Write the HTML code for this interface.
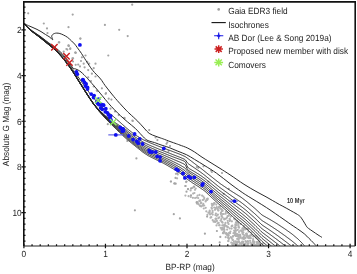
<!DOCTYPE html>
<html><head><meta charset="utf-8"><style>
html,body{margin:0;padding:0;background:#fff;width:357px;height:274px;overflow:hidden}
svg{display:block}
text{font-family:"Liberation Sans",sans-serif;font-size:8.3px;fill:#222;text-rendering:geometricPrecision}
svg{will-change:transform}
</style></head><body>
<svg width="357" height="274" viewBox="0 0 357 274">
<rect width="357" height="274" fill="#fff"/>
<defs><clipPath id="pc"><rect x="24" y="1.9" width="331" height="243.9"/></clipPath></defs>
<g clip-path="url(#pc)">
<g fill="#b2b2b2"><circle cx="175.9" cy="173.8" r="1.1"/><circle cx="177.8" cy="174.5" r="1.1"/><circle cx="177.1" cy="178.3" r="1.1"/><circle cx="170.8" cy="181.5" r="1.1"/><circle cx="174.6" cy="183.4" r="1.1"/><circle cx="186.1" cy="182.1" r="1.1"/><circle cx="185.4" cy="186.0" r="1.1"/><circle cx="188.0" cy="189.2" r="1.1"/><circle cx="190.6" cy="190.4" r="1.1"/><circle cx="192.5" cy="187.9" r="1.1"/><circle cx="193.8" cy="186.6" r="1.1"/><circle cx="195.7" cy="188.5" r="1.1"/><circle cx="195.0" cy="189.8" r="1.1"/><circle cx="194.4" cy="193.0" r="1.1"/><circle cx="193.1" cy="193.6" r="1.1"/><circle cx="185.4" cy="195.6" r="1.1"/><circle cx="188.6" cy="196.2" r="1.1"/><circle cx="197.6" cy="195.6" r="1.1"/><circle cx="199.5" cy="194.9" r="1.1"/><circle cx="202.1" cy="195.6" r="1.1"/><circle cx="198.2" cy="198.1" r="1.1"/><circle cx="200.1" cy="200.7" r="1.1"/><circle cx="202.7" cy="200.0" r="1.1"/><circle cx="197.0" cy="202.0" r="1.1"/><circle cx="200.8" cy="203.2" r="1.1"/><circle cx="203.3" cy="203.9" r="1.1"/><circle cx="212.6" cy="212.5" r="1.1"/><circle cx="217.9" cy="214.7" r="1.1"/><circle cx="203.7" cy="199.6" r="1.1"/><circle cx="250.8" cy="238.2" r="1.1"/><circle cx="216.5" cy="225.4" r="1.1"/><circle cx="222.7" cy="210.8" r="1.1"/><circle cx="231.6" cy="228.6" r="1.1"/><circle cx="207.3" cy="199.2" r="1.1"/><circle cx="240.3" cy="230.7" r="1.1"/><circle cx="235.4" cy="225.9" r="1.1"/><circle cx="248.5" cy="236.5" r="1.1"/><circle cx="219.1" cy="225.3" r="1.1"/><circle cx="222.9" cy="233.2" r="1.1"/><circle cx="239.0" cy="234.6" r="1.1"/><circle cx="227.5" cy="235.0" r="1.1"/><circle cx="231.6" cy="226.3" r="1.1"/><circle cx="245.4" cy="237.9" r="1.1"/><circle cx="235.5" cy="230.1" r="1.1"/><circle cx="216.3" cy="204.6" r="1.1"/><circle cx="247.0" cy="235.2" r="1.1"/><circle cx="248.7" cy="237.8" r="1.1"/><circle cx="211.3" cy="217.2" r="1.1"/><circle cx="259.2" cy="244.8" r="1.1"/><circle cx="211.5" cy="207.8" r="1.1"/><circle cx="243.7" cy="226.0" r="1.1"/><circle cx="219.2" cy="217.4" r="1.1"/><circle cx="247.4" cy="244.6" r="1.1"/><circle cx="243.8" cy="236.7" r="1.1"/><circle cx="207.2" cy="199.2" r="1.1"/><circle cx="207.7" cy="198.7" r="1.1"/><circle cx="238.5" cy="227.3" r="1.1"/><circle cx="250.4" cy="246.6" r="1.1"/><circle cx="206.1" cy="200.4" r="1.1"/><circle cx="198.4" cy="204.2" r="1.1"/><circle cx="225.5" cy="222.9" r="1.1"/><circle cx="242.4" cy="245.9" r="1.1"/><circle cx="209.3" cy="212.8" r="1.1"/><circle cx="238.9" cy="246.2" r="1.1"/><circle cx="250.2" cy="237.7" r="1.1"/><circle cx="238.3" cy="222.4" r="1.1"/><circle cx="233.2" cy="244.8" r="1.1"/><circle cx="254.3" cy="246.4" r="1.1"/><circle cx="216.8" cy="207.2" r="1.1"/><circle cx="246.1" cy="241.9" r="1.1"/><circle cx="237.5" cy="242.4" r="1.1"/><circle cx="216.6" cy="220.4" r="1.1"/><circle cx="252.2" cy="245.6" r="1.1"/><circle cx="258.7" cy="244.3" r="1.1"/><circle cx="197.7" cy="202.5" r="1.1"/><circle cx="230.8" cy="237.1" r="1.1"/><circle cx="254.4" cy="246.0" r="1.1"/><circle cx="240.8" cy="224.0" r="1.1"/><circle cx="247.9" cy="245.5" r="1.1"/><circle cx="234.4" cy="243.6" r="1.1"/><circle cx="249.8" cy="238.1" r="1.1"/><circle cx="212.6" cy="210.9" r="1.1"/><circle cx="227.9" cy="222.7" r="1.1"/><circle cx="202.5" cy="205.3" r="1.1"/><circle cx="242.3" cy="233.0" r="1.1"/><circle cx="238.1" cy="236.0" r="1.1"/><circle cx="237.5" cy="235.4" r="1.1"/><circle cx="234.6" cy="231.3" r="1.1"/><circle cx="245.3" cy="244.1" r="1.1"/><circle cx="259.7" cy="244.1" r="1.1"/><circle cx="223.0" cy="229.7" r="1.1"/><circle cx="233.1" cy="245.3" r="1.1"/><circle cx="261.5" cy="246.5" r="1.1"/><circle cx="220.9" cy="213.3" r="1.1"/><circle cx="235.4" cy="232.8" r="1.1"/><circle cx="226.1" cy="218.5" r="1.1"/><circle cx="244.3" cy="227.8" r="1.1"/><circle cx="233.1" cy="246.2" r="1.1"/><circle cx="215.0" cy="209.8" r="1.1"/><circle cx="253.9" cy="242.5" r="1.1"/><circle cx="200.0" cy="200.6" r="1.1"/><circle cx="210.5" cy="217.7" r="1.1"/><circle cx="221.3" cy="219.1" r="1.1"/><circle cx="259.1" cy="243.3" r="1.1"/><circle cx="236.8" cy="222.9" r="1.1"/><circle cx="213.1" cy="204.2" r="1.1"/><circle cx="209.7" cy="211.9" r="1.1"/><circle cx="228.6" cy="224.1" r="1.1"/><circle cx="236.2" cy="243.7" r="1.1"/><circle cx="242.2" cy="238.6" r="1.1"/><circle cx="239.0" cy="232.0" r="1.1"/><circle cx="225.7" cy="213.7" r="1.1"/><circle cx="221.3" cy="209.0" r="1.1"/><circle cx="237.2" cy="238.9" r="1.1"/><circle cx="218.4" cy="210.4" r="1.1"/><circle cx="224.3" cy="219.4" r="1.1"/><circle cx="257.7" cy="245.6" r="1.1"/><circle cx="253.5" cy="245.2" r="1.1"/><circle cx="204.3" cy="198.1" r="1.1"/><circle cx="250.1" cy="240.8" r="1.1"/><circle cx="241.7" cy="246.2" r="1.1"/><circle cx="223.6" cy="228.8" r="1.1"/><circle cx="237.3" cy="241.5" r="1.1"/><circle cx="240.6" cy="237.4" r="1.1"/><circle cx="238.4" cy="237.0" r="1.1"/><circle cx="238.7" cy="241.5" r="1.1"/><circle cx="218.7" cy="207.7" r="1.1"/><circle cx="210.1" cy="214.4" r="1.1"/><circle cx="216.9" cy="221.0" r="1.1"/><circle cx="237.2" cy="234.2" r="1.1"/><circle cx="227.1" cy="229.6" r="1.1"/><circle cx="217.3" cy="208.9" r="1.1"/><circle cx="230.1" cy="233.2" r="1.1"/><circle cx="253.1" cy="245.8" r="1.1"/><circle cx="234.8" cy="235.1" r="1.1"/><circle cx="207.2" cy="200.0" r="1.1"/><circle cx="236.0" cy="233.9" r="1.1"/><circle cx="203.4" cy="196.6" r="1.1"/><circle cx="234.2" cy="230.5" r="1.1"/><circle cx="248.4" cy="243.7" r="1.1"/><circle cx="229.6" cy="218.9" r="1.1"/><circle cx="244.7" cy="244.2" r="1.1"/><circle cx="237.0" cy="244.6" r="1.1"/><circle cx="224.3" cy="231.9" r="1.1"/><circle cx="237.0" cy="220.8" r="1.1"/><circle cx="229.7" cy="221.1" r="1.1"/><circle cx="228.9" cy="238.8" r="1.1"/><circle cx="232.1" cy="226.0" r="1.1"/><circle cx="222.2" cy="210.0" r="1.1"/><circle cx="228.5" cy="238.6" r="1.1"/><circle cx="211.9" cy="208.7" r="1.1"/><circle cx="237.4" cy="244.8" r="1.1"/><circle cx="239.8" cy="244.0" r="1.1"/><circle cx="246.0" cy="228.9" r="1.1"/><circle cx="247.5" cy="243.3" r="1.1"/><circle cx="211.5" cy="213.5" r="1.1"/><circle cx="243.7" cy="245.8" r="1.1"/><circle cx="227.6" cy="216.1" r="1.1"/><circle cx="214.5" cy="221.4" r="1.1"/><circle cx="262.6" cy="246.8" r="1.1"/><circle cx="212.1" cy="205.8" r="1.1"/><circle cx="247.7" cy="241.2" r="1.1"/><circle cx="228.9" cy="215.2" r="1.1"/><circle cx="258.4" cy="239.3" r="1.1"/><circle cx="242.3" cy="241.7" r="1.1"/><circle cx="234.7" cy="243.3" r="1.1"/><circle cx="262.3" cy="245.6" r="1.1"/><circle cx="229.1" cy="232.8" r="1.1"/><circle cx="243.8" cy="228.9" r="1.1"/><circle cx="248.5" cy="231.6" r="1.1"/><circle cx="216.8" cy="215.8" r="1.1"/><circle cx="230.2" cy="220.2" r="1.1"/><circle cx="254.9" cy="245.0" r="1.1"/><circle cx="241.7" cy="230.4" r="1.1"/><circle cx="214.2" cy="207.6" r="1.1"/><circle cx="246.7" cy="233.7" r="1.1"/><circle cx="237.7" cy="245.5" r="1.1"/><circle cx="205.7" cy="207.8" r="1.1"/><circle cx="231.9" cy="221.3" r="1.1"/><circle cx="251.3" cy="244.4" r="1.1"/><circle cx="214.6" cy="203.2" r="1.1"/><circle cx="228.3" cy="241.1" r="1.1"/><circle cx="257.4" cy="243.5" r="1.1"/><circle cx="262.8" cy="243.7" r="1.1"/><circle cx="237.8" cy="229.9" r="1.1"/><circle cx="227.7" cy="212.9" r="1.1"/><circle cx="232.2" cy="244.7" r="1.1"/><circle cx="243.9" cy="237.9" r="1.1"/><circle cx="248.2" cy="241.7" r="1.1"/><circle cx="255.8" cy="237.4" r="1.1"/><circle cx="192.9" cy="197.8" r="1.1"/><circle cx="252.8" cy="241.8" r="1.1"/><circle cx="256.3" cy="244.8" r="1.1"/><circle cx="243.4" cy="232.5" r="1.1"/><circle cx="231.3" cy="242.7" r="1.1"/><circle cx="256.4" cy="244.6" r="1.1"/><circle cx="236.5" cy="243.3" r="1.1"/><circle cx="244.7" cy="235.4" r="1.1"/><circle cx="249.3" cy="235.9" r="1.1"/><circle cx="251.7" cy="234.4" r="1.1"/><circle cx="221.6" cy="209.5" r="1.1"/><circle cx="224.3" cy="218.8" r="1.1"/><circle cx="224.4" cy="229.9" r="1.1"/><circle cx="203.8" cy="208.5" r="1.1"/><circle cx="232.3" cy="225.5" r="1.1"/><circle cx="259.2" cy="246.6" r="1.1"/><circle cx="225.7" cy="237.2" r="1.1"/><circle cx="228.6" cy="237.8" r="1.1"/><circle cx="234.1" cy="245.6" r="1.1"/><circle cx="215.5" cy="218.9" r="1.1"/><circle cx="244.2" cy="244.2" r="1.1"/><circle cx="235.6" cy="227.6" r="1.1"/><circle cx="247.5" cy="229.2" r="1.1"/><circle cx="238.4" cy="224.0" r="1.1"/><circle cx="242.5" cy="228.6" r="1.1"/><circle cx="242.0" cy="231.5" r="1.1"/><circle cx="212.7" cy="214.6" r="1.1"/><circle cx="201.4" cy="206.4" r="1.1"/><circle cx="235.2" cy="219.5" r="1.1"/><circle cx="241.8" cy="242.4" r="1.1"/><circle cx="200.3" cy="206.1" r="1.1"/><circle cx="264.4" cy="245.8" r="1.1"/><circle cx="233.0" cy="243.2" r="1.1"/><circle cx="253.1" cy="239.2" r="1.1"/><circle cx="235.9" cy="222.4" r="1.1"/><circle cx="243.2" cy="241.8" r="1.1"/><circle cx="228.4" cy="234.6" r="1.1"/><circle cx="225.4" cy="225.7" r="1.1"/><circle cx="234.1" cy="218.8" r="1.1"/><circle cx="239.2" cy="227.6" r="1.1"/><circle cx="240.3" cy="234.9" r="1.1"/><circle cx="205.6" cy="201.5" r="1.1"/><circle cx="222.1" cy="222.0" r="1.1"/><circle cx="253.4" cy="235.7" r="1.1"/><circle cx="213.6" cy="221.7" r="1.1"/><circle cx="239.0" cy="246.8" r="1.1"/><circle cx="236.5" cy="242.7" r="1.1"/><circle cx="251.8" cy="243.5" r="1.1"/><circle cx="226.6" cy="234.6" r="1.1"/><circle cx="254.2" cy="242.9" r="1.1"/><circle cx="237.4" cy="221.8" r="1.1"/><circle cx="199.7" cy="205.3" r="1.1"/><circle cx="222.3" cy="228.5" r="1.1"/><circle cx="228.4" cy="241.0" r="1.1"/><circle cx="224.1" cy="228.1" r="1.1"/><circle cx="222.3" cy="225.4" r="1.1"/><circle cx="216.0" cy="218.6" r="1.1"/><circle cx="243.8" cy="246.2" r="1.1"/><circle cx="225.9" cy="211.9" r="1.1"/><circle cx="254.2" cy="241.7" r="1.1"/><circle cx="247.8" cy="229.3" r="1.1"/><circle cx="220.9" cy="214.1" r="1.1"/><circle cx="226.7" cy="226.0" r="1.1"/><circle cx="212.7" cy="220.2" r="1.1"/><circle cx="220.3" cy="208.4" r="1.1"/><circle cx="247.2" cy="235.9" r="1.1"/><circle cx="224.7" cy="224.7" r="1.1"/><circle cx="225.4" cy="233.4" r="1.1"/><circle cx="230.7" cy="216.7" r="1.1"/><circle cx="238.2" cy="235.7" r="1.1"/><circle cx="257.4" cy="244.0" r="1.1"/><circle cx="227.3" cy="227.0" r="1.1"/><circle cx="247.4" cy="237.5" r="1.1"/><circle cx="206.3" cy="211.3" r="1.1"/><circle cx="255.2" cy="235.9" r="1.1"/><circle cx="243.9" cy="239.1" r="1.1"/><circle cx="246.2" cy="233.8" r="1.1"/><circle cx="227.8" cy="234.2" r="1.1"/><circle cx="234.9" cy="232.3" r="1.1"/><circle cx="222.6" cy="222.7" r="1.1"/><circle cx="235.5" cy="245.2" r="1.1"/><circle cx="253.3" cy="244.2" r="1.1"/><circle cx="253.0" cy="240.9" r="1.1"/><circle cx="239.3" cy="242.3" r="1.1"/><circle cx="236.8" cy="225.1" r="1.1"/><circle cx="220.6" cy="227.8" r="1.1"/><circle cx="213.9" cy="203.4" r="1.1"/><circle cx="258.8" cy="243.4" r="1.1"/><circle cx="196.6" cy="197.5" r="1.1"/><circle cx="235.0" cy="233.6" r="1.1"/><circle cx="259.1" cy="242.6" r="1.1"/><circle cx="219.2" cy="206.5" r="1.1"/><circle cx="238.7" cy="239.2" r="1.1"/><circle cx="248.7" cy="238.1" r="1.1"/><circle cx="199.2" cy="201.1" r="1.1"/><circle cx="227.0" cy="217.6" r="1.1"/><circle cx="207.4" cy="214.8" r="1.1"/><circle cx="234.2" cy="227.5" r="1.1"/><circle cx="217.6" cy="223.4" r="1.1"/><circle cx="213.6" cy="204.7" r="1.1"/><circle cx="209.7" cy="210.5" r="1.1"/><circle cx="221.5" cy="221.4" r="1.1"/><circle cx="235.1" cy="228.0" r="1.1"/><circle cx="215.2" cy="221.6" r="1.1"/><circle cx="243.1" cy="234.4" r="1.1"/><circle cx="208.4" cy="212.7" r="1.1"/><circle cx="251.0" cy="235.4" r="1.1"/><circle cx="215.7" cy="208.1" r="1.1"/><circle cx="211.8" cy="203.9" r="1.1"/><circle cx="223.4" cy="233.2" r="1.1"/><circle cx="241.3" cy="246.2" r="1.1"/><circle cx="218.3" cy="218.2" r="1.1"/><circle cx="221.6" cy="215.8" r="1.1"/><circle cx="240.3" cy="236.3" r="1.1"/><circle cx="242.7" cy="228.3" r="1.1"/><circle cx="224.3" cy="226.8" r="1.1"/><circle cx="243.3" cy="242.3" r="1.1"/><circle cx="246.5" cy="234.2" r="1.1"/><circle cx="228.7" cy="235.5" r="1.1"/><circle cx="236.2" cy="230.7" r="1.1"/><circle cx="235.9" cy="235.9" r="1.1"/><circle cx="241.6" cy="243.4" r="1.1"/><circle cx="240.0" cy="235.7" r="1.1"/><circle cx="247.5" cy="245.7" r="1.1"/><circle cx="260.7" cy="244.0" r="1.1"/><circle cx="223.4" cy="225.3" r="1.1"/><circle cx="245.0" cy="238.3" r="1.1"/><circle cx="241.3" cy="244.3" r="1.1"/><circle cx="222.8" cy="214.1" r="1.1"/><circle cx="221.7" cy="216.4" r="1.1"/><circle cx="223.8" cy="214.0" r="1.1"/><circle cx="218.7" cy="222.9" r="1.1"/><circle cx="228.2" cy="216.0" r="1.1"/><circle cx="235.5" cy="235.6" r="1.1"/><circle cx="242.6" cy="237.8" r="1.1"/><circle cx="204.2" cy="205.5" r="1.1"/><circle cx="218.2" cy="210.3" r="1.1"/><circle cx="220.5" cy="220.5" r="1.1"/><circle cx="221.6" cy="229.6" r="1.1"/><circle cx="232.7" cy="239.6" r="1.1"/><circle cx="257.6" cy="242.2" r="1.1"/><circle cx="257.6" cy="238.4" r="1.1"/><circle cx="245.2" cy="229.5" r="1.1"/><circle cx="250.3" cy="235.6" r="1.1"/><circle cx="256.6" cy="242.1" r="1.1"/><circle cx="235.7" cy="241.4" r="1.1"/><circle cx="235.3" cy="224.3" r="1.1"/><circle cx="232.6" cy="240.0" r="1.1"/><circle cx="243.6" cy="245.0" r="1.1"/><circle cx="229.7" cy="228.4" r="1.1"/><circle cx="215.3" cy="222.0" r="1.1"/><circle cx="222.1" cy="227.9" r="1.1"/><circle cx="231.6" cy="238.2" r="1.1"/><circle cx="238.9" cy="245.7" r="1.1"/><circle cx="220.9" cy="212.9" r="1.1"/><circle cx="233.1" cy="236.0" r="1.1"/><circle cx="259.5" cy="241.2" r="1.1"/><circle cx="221.7" cy="211.3" r="1.1"/><circle cx="241.1" cy="243.0" r="1.1"/><circle cx="227.9" cy="227.2" r="1.1"/><circle cx="230.4" cy="231.5" r="1.1"/><circle cx="250.4" cy="242.6" r="1.1"/><circle cx="239.8" cy="238.0" r="1.1"/><circle cx="222.6" cy="217.5" r="1.1"/><circle cx="195.1" cy="198.0" r="1.1"/><circle cx="225.0" cy="218.8" r="1.1"/><circle cx="252.3" cy="246.0" r="1.1"/><circle cx="220.0" cy="206.8" r="1.1"/><circle cx="201.3" cy="202.6" r="1.1"/><circle cx="203.2" cy="205.6" r="1.1"/><circle cx="233.5" cy="233.2" r="1.1"/><circle cx="223.6" cy="232.2" r="1.1"/><circle cx="251.2" cy="232.6" r="1.1"/><circle cx="226.5" cy="233.2" r="1.1"/><circle cx="227.7" cy="220.8" r="1.1"/><circle cx="224.5" cy="225.3" r="1.1"/><circle cx="235.7" cy="228.1" r="1.1"/><circle cx="246.4" cy="236.0" r="1.1"/><circle cx="245.6" cy="245.8" r="1.1"/><circle cx="238.8" cy="241.3" r="1.1"/><circle cx="256.8" cy="237.2" r="1.1"/><circle cx="233.9" cy="241.3" r="1.1"/><circle cx="219.6" cy="225.2" r="1.1"/><circle cx="228.1" cy="237.2" r="1.1"/><circle cx="215.9" cy="213.7" r="1.1"/><circle cx="232.8" cy="236.7" r="1.1"/><circle cx="243.2" cy="243.5" r="1.1"/><circle cx="243.3" cy="230.6" r="1.1"/><circle cx="253.2" cy="236.4" r="1.1"/><circle cx="249.5" cy="237.1" r="1.1"/><circle cx="245.5" cy="241.1" r="1.1"/><circle cx="238.6" cy="226.1" r="1.1"/><circle cx="197.0" cy="203.6" r="1.1"/><circle cx="215.4" cy="215.1" r="1.1"/><circle cx="237.1" cy="236.2" r="1.1"/><circle cx="190.8" cy="197.0" r="1.1"/></g>
<g fill="#a4a4a4"><circle cx="28.2" cy="13.3" r="1.1"/><circle cx="72.7" cy="14.6" r="1.1"/><circle cx="43.8" cy="23.5" r="1.1"/><circle cx="47.0" cy="28.4" r="1.1"/><circle cx="68.5" cy="27.2" r="1.1"/><circle cx="47.5" cy="33.1" r="1.1"/><circle cx="59.3" cy="42.3" r="1.1"/><circle cx="80.3" cy="38.6" r="1.1"/><circle cx="68.5" cy="45.4" r="1.1"/><circle cx="132.2" cy="4.7" r="1.1"/><circle cx="104.9" cy="24.9" r="1.1"/><circle cx="119.2" cy="29.8" r="1.1"/><circle cx="127.7" cy="36.1" r="1.1"/><circle cx="80.4" cy="38.6" r="1.1"/><circle cx="68.8" cy="46.0" r="1.1"/><circle cx="67.3" cy="49.6" r="1.1"/><circle cx="70.2" cy="48.9" r="1.1"/><circle cx="75.3" cy="52.5" r="1.1"/><circle cx="73.1" cy="58.4" r="1.1"/><circle cx="58.8" cy="42.4" r="1.1"/><circle cx="68.6" cy="45.7" r="1.1"/><circle cx="66.4" cy="49.0" r="1.1"/><circle cx="70.3" cy="48.4" r="1.1"/><circle cx="63.7" cy="51.7" r="1.1"/><circle cx="75.7" cy="52.8" r="1.1"/><circle cx="72.4" cy="58.3" r="1.1"/><circle cx="73.0" cy="61.5" r="1.1"/><circle cx="75.7" cy="64.8" r="1.1"/><circle cx="134.9" cy="210.3" r="1.1"/><circle cx="173.8" cy="214.2" r="1.1"/><circle cx="179.9" cy="218.4" r="1.1"/><circle cx="196.6" cy="202.4" r="1.1"/><circle cx="222.0" cy="173.0" r="1.1"/><circle cx="211.9" cy="172.0" r="1.1"/><circle cx="203.5" cy="166.3" r="1.1"/><circle cx="196.8" cy="167.0" r="1.1"/><circle cx="228.7" cy="188.8" r="1.1"/><circle cx="223.7" cy="193.9" r="1.1"/><circle cx="174.3" cy="183.5" r="1.1"/><circle cx="185.5" cy="186.0" r="1.1"/><circle cx="188.0" cy="189.0" r="1.1"/><circle cx="191.1" cy="188.4" r="1.1"/><circle cx="194.2" cy="186.8" r="1.1"/><circle cx="75.5" cy="52.7" r="1.1"/><circle cx="81.9" cy="57.3" r="1.1"/><circle cx="85.5" cy="55.5" r="1.1"/><circle cx="83.7" cy="63.7" r="1.1"/><circle cx="87.3" cy="61.9" r="1.1"/><circle cx="89.2" cy="63.7" r="1.1"/><circle cx="84.6" cy="67.3" r="1.1"/><circle cx="88.2" cy="70.1" r="1.1"/><circle cx="93.7" cy="68.2" r="1.1"/><circle cx="95.5" cy="63.7" r="1.1"/><circle cx="91.9" cy="73.7" r="1.1"/><circle cx="88.2" cy="77.4" r="1.1"/><circle cx="91.0" cy="81.0" r="1.1"/><circle cx="95.5" cy="76.5" r="1.1"/><circle cx="93.7" cy="86.5" r="1.1"/><circle cx="97.4" cy="91.1" r="1.1"/><circle cx="101.9" cy="88.3" r="1.1"/><circle cx="105.6" cy="93.8" r="1.1"/><circle cx="108.3" cy="55.5" r="1.1"/><circle cx="80.0" cy="66.4" r="1.1"/><circle cx="81.0" cy="61.0" r="1.1"/><circle cx="78.2" cy="64.6" r="1.1"/><circle cx="96.8" cy="90.5" r="1.1"/><circle cx="106.0" cy="93.2" r="1.1"/><circle cx="108.7" cy="98.7" r="1.1"/><circle cx="111.4" cy="99.6" r="1.1"/><circle cx="118.7" cy="115.1" r="1.1"/><circle cx="124.2" cy="117.8" r="1.1"/><circle cx="132.4" cy="120.6" r="1.1"/><circle cx="110.5" cy="108.7" r="1.1"/><circle cx="115.0" cy="111.5" r="1.1"/><circle cx="107.8" cy="124.2" r="1.1"/><circle cx="97.7" cy="105.1" r="1.1"/><circle cx="118.7" cy="130.6" r="1.1"/><circle cx="124.6" cy="118.2" r="1.1"/><circle cx="132.8" cy="121.0" r="1.1"/><circle cx="149.2" cy="130.1" r="1.1"/><circle cx="155.6" cy="137.4" r="1.1"/><circle cx="157.4" cy="140.1" r="1.1"/><circle cx="166.5" cy="143.8" r="1.1"/><circle cx="168.4" cy="151.1" r="1.1"/><circle cx="127.3" cy="141.0" r="1.1"/><circle cx="136.4" cy="158.4" r="1.1"/><circle cx="167.3" cy="142.3" r="1.1"/><circle cx="170.0" cy="146.0" r="1.1"/><circle cx="198.3" cy="167.8" r="1.1"/><circle cx="211.1" cy="170.6" r="1.1"/><circle cx="208.4" cy="181.5" r="1.1"/><circle cx="177.3" cy="173.3" r="1.1"/><circle cx="175.5" cy="177.9" r="1.1"/><circle cx="171.0" cy="181.5" r="1.1"/><circle cx="186.5" cy="181.5" r="1.1"/><circle cx="220.3" cy="236.9" r="1.1"/><circle cx="207.1" cy="216.6" r="1.1"/><circle cx="216.9" cy="231.0" r="1.1"/><circle cx="219.7" cy="242.4" r="1.1"/><circle cx="204.9" cy="233.7" r="1.1"/><circle cx="191.0" cy="195.3" r="1.1"/><circle cx="186.5" cy="191.7" r="1.1"/><circle cx="175.7" cy="183.7" r="1.1"/></g>
<path d="M24.20,23.80L24.95,24.59L25.70,25.38L26.45,26.17L27.20,26.96L27.95,27.75L28.70,28.36L29.45,28.96L30.20,29.56L30.95,30.16L31.70,30.76L32.45,31.36L33.20,31.94L33.95,32.45L34.70,32.97L35.45,33.48L36.20,33.99L36.95,34.51L37.70,35.02L38.45,35.54L39.20,36.05L39.95,36.57L40.70,37.12L41.45,37.68L42.20,38.24L42.95,38.80L43.70,39.36L44.45,39.92L45.20,40.48L45.95,41.07L46.70,41.68L47.45,42.29L48.20,42.90L48.95,43.51L49.70,44.12L50.45,44.74L51.20,45.35L51.95,45.96L52.70,46.54L53.45,47.12L54.20,47.70L54.95,48.33L55.70,48.96L56.45,49.59L57.20,50.22L57.95,50.85L58.70,51.50L59.45,52.23L60.20,52.95L60.95,53.68L61.70,54.41L62.45,55.24L63.20,56.14L63.95,57.04L64.70,57.94L65.45,58.84L66.20,59.88L66.95,60.93L67.70,61.98L68.45,63.03L69.20,64.08L69.95,65.13L70.70,66.22L71.45,67.32L72.20,68.41L72.95,69.51L73.70,70.60L74.45,71.70L75.20,72.78L75.95,73.83L76.70,74.88L77.45,75.93L78.20,76.98L78.95,78.03L79.70,79.08L80.45,80.16L81.20,81.25L81.95,82.35L82.70,83.44L83.45,84.54L84.20,85.63L84.95,86.73L85.70,87.75L86.45,88.77L87.20,89.79L87.95,90.81L88.70,91.83L89.45,92.85L90.20,93.84L90.95,94.74L91.70,95.64L92.45,96.54L93.20,97.44L93.95,98.34L94.70,99.24L95.45,100.10L96.20,100.94L96.95,101.78L97.70,102.62L98.45,103.46L99.20,104.30L99.95,105.14L100.70,105.83L101.45,106.51L102.20,107.18L102.95,107.86L103.70,108.53L104.45,109.20L105.20,109.88L105.95,110.55L106.70,111.15L107.45,111.74L108.20,112.33L108.95,112.92L109.70,113.51L110.45,114.10L111.20,114.69L111.95,115.30L112.70,115.94L113.45,116.58L114.20,117.22L114.95,117.87L115.70,118.51L116.45,119.15L117.20,119.79L117.95,120.43L118.70,121.07L119.45,121.72L120.20,122.40L120.95,123.07L121.70,123.74L122.45,124.41L123.20,125.08L123.95,125.76L124.70,126.43L125.45,127.10L126.20,127.77L126.95,128.44L127.70,129.03L128.45,129.62L129.20,130.22L129.95,130.81L130.70,131.40L131.45,132.00L132.20,132.59L132.95,133.18L133.70,133.77L134.45,134.37L135.20,134.92L135.95,135.37L136.70,135.81L137.45,136.26L138.20,136.70L138.95,137.15L139.70,137.60L140.45,138.04L141.20,138.49L141.95,138.94L142.70,139.38L143.45,139.82L144.20,140.16L144.95,140.50L145.70,140.85L146.45,141.19L147.20,141.53L147.95,141.87L148.70,142.21L149.45,142.55L150.20,142.88L150.95,143.18L151.70,143.48L152.45,143.78L153.20,144.08L153.95,144.38L154.70,144.68L155.45,144.98L156.20,145.28L156.95,145.58L157.70,145.88L158.45,146.18L159.20,146.48L159.95,146.78L160.70,147.06L161.45,147.34L162.20,147.61L162.95,147.89L163.70,148.17L164.45,148.45L165.20,148.72L165.95,149.00L166.70,149.28L167.45,149.56L168.20,149.83L168.95,150.11L169.70,150.39L170.45,150.67L171.20,150.96L171.95,151.24L172.70,151.53L173.45,151.81L174.20,152.10L174.95,152.38L175.70,152.67L176.45,152.95L177.20,153.24L177.95,153.52L178.70,153.81L179.45,154.09L180.20,154.39L180.95,154.72L181.70,155.05L182.45,155.38L183.20,155.72L183.95,156.05L184.70,156.38L185.45,156.78L186.20,157.32L186.95,157.86L187.70,158.40L188.45,158.94L189.20,159.50L189.95,160.07L190.70,160.64L191.45,161.21L192.20,161.77L192.95,162.35L193.70,162.93L194.45,163.50L195.20,164.08L195.95,164.66L196.70,165.22L197.45,165.77L198.20,166.33L198.95,166.88L199.70,167.44L200.45,167.99L201.20,168.56L201.95,169.16L202.70,169.76L203.45,170.36L204.20,170.96L204.95,171.56L205.70,172.16L206.45,172.76L207.20,173.36L207.95,173.96L208.70,174.56L209.45,175.16L210.20,175.76L210.95,176.35L211.70,176.94L212.45,177.54L213.20,178.13L213.95,178.72L214.70,179.31L215.45,179.91L216.20,180.50L216.95,181.09L217.70,181.68L218.45,182.28L219.20,182.87L219.95,183.46L220.70,183.98L221.45,184.49L222.20,185.00L222.95,185.51L223.70,186.02L224.45,186.53L225.20,187.04L225.95,187.55L226.70,188.06L227.45,188.57L228.20,189.08L228.95,189.59L229.70,190.10L230.45,190.58L231.20,191.05L231.95,191.52L232.70,191.99L233.45,192.46L234.20,192.93L234.95,193.41L235.70,193.88L236.45,194.35L237.20,194.82L237.95,195.29L238.70,195.76L239.45,196.23L240.20,196.70L240.95,197.17L241.70,197.73L242.45,198.30L243.20,198.87L243.95,199.44L244.70,200.01L245.45,200.58L246.20,201.17L246.95,201.79L247.70,202.42L248.45,203.04L249.20,203.67L249.95,204.29L250.70,204.92L251.45,205.54L252.20,206.17L252.95,206.79L253.70,207.42L254.45,208.04L255.20,208.69L255.95,209.38L256.70,210.08L257.45,210.77L258.20,211.47L258.95,212.17L259.70,212.86L260.45,213.56L261.20,214.26L261.95,214.95L262.70,215.39L263.45,215.82L264.20,216.24L264.95,216.66L265.70,217.08L266.45,217.50L267.20,217.92L267.95,218.35L268.70,218.77L269.45,219.19L270.20,219.62L270.95,220.07L271.70,220.52L272.45,220.97L273.20,221.42L273.95,221.87L274.70,222.32L275.45,222.77L276.20,223.22L276.95,223.67L277.70,224.16L278.45,224.66L279.20,225.16L279.95,225.65L280.70,226.15L281.45,226.65L282.20,227.14L282.95,227.64L283.70,228.14L284.45,228.64L285.20,229.14L285.95,229.68L286.70,230.21L287.45,230.75L288.20,231.29L288.95,231.82L289.70,232.36L290.45,232.89L291.20,233.43L291.95,233.96L292.70,234.58L293.45,235.21L294.20,235.83L294.95,236.46L295.70,237.08L296.45,237.71L297.20,238.33L297.95,238.96L298.70,239.70L299.45,240.45L300.20,241.20L300.95,241.95L301.70,242.70L302.45,243.51L303.20,244.37L303.95,245.23L304.70,246.09L305.45,246.94L306.20,247.80L306.95,248.66L307.70,249.51L308.45,250.37M24.20,23.80L24.95,24.60L25.70,25.40L26.45,26.20L27.20,27.00L27.95,27.80L28.70,28.42L29.45,29.03L30.20,29.63L30.95,30.24L31.70,30.85L32.45,31.45L33.20,32.03L33.95,32.56L34.70,33.08L35.45,33.61L36.20,34.13L36.95,34.66L37.70,35.18L38.45,35.71L39.20,36.27L39.95,36.83L40.70,37.44L41.45,38.06L42.20,38.67L42.95,39.28L43.70,39.90L44.45,40.51L45.20,41.13L45.95,41.74L46.70,42.35L47.45,42.96L48.20,43.57L48.95,44.18L49.70,44.80L50.45,45.41L51.20,46.02L51.95,46.63L52.70,47.24L53.45,47.86L54.20,48.47L54.95,49.22L55.70,49.97L56.45,50.72L57.20,51.47L57.95,52.22L58.70,52.98L59.45,53.80L60.20,54.61L60.95,55.43L61.70,56.24L62.45,57.13L63.20,58.05L63.95,58.98L64.70,59.90L65.45,60.86L66.20,61.85L66.95,62.84L67.70,63.83L68.45,64.82L69.20,65.81L69.95,66.80L70.70,67.93L71.45,69.07L72.20,70.20L72.95,71.34L73.70,72.47L74.45,73.68L75.20,74.89L75.95,76.09L76.70,77.30L77.45,78.51L78.20,79.71L78.95,80.91L79.70,82.10L80.45,83.30L81.20,84.49L81.95,85.69L82.70,86.88L83.45,88.07L84.20,89.25L84.95,90.44L85.70,91.63L86.45,92.82L87.20,94.00L87.95,95.19L88.70,96.31L89.45,97.43L90.20,98.55L90.95,99.67L91.70,100.78L92.45,101.90L93.20,103.00L93.95,103.96L94.70,104.92L95.45,105.88L96.20,106.80L96.95,107.64L97.70,108.48L98.45,109.31L99.20,110.14L99.95,110.86L100.70,111.56L101.45,112.25L102.20,112.94L102.95,113.62L103.70,114.29L104.45,114.96L105.20,115.62L105.95,116.22L106.70,116.78L107.45,117.33L108.20,117.88L108.95,118.42L109.70,118.96L110.45,119.48L111.20,119.99L111.95,120.49L112.70,121.01L113.45,121.52L114.20,122.03L114.95,122.53L115.70,123.03L116.45,123.53L117.20,124.02L117.95,124.50L118.70,124.99L119.45,125.48L120.20,125.97L120.95,126.47L121.70,126.95L122.45,127.42L123.20,127.90L123.95,128.37L124.70,128.84L125.45,129.31L126.20,129.84L126.95,130.51L127.70,131.11L128.45,131.70L129.20,132.30L129.95,132.89L130.70,133.49L131.45,134.09L132.20,134.68L132.95,135.28L133.70,135.87L134.45,136.47L135.20,137.03L135.95,137.51L136.70,137.98L137.45,138.46L138.20,138.93L138.95,139.41L139.70,139.88L140.45,140.36L141.20,140.83L141.95,141.31L142.70,141.78L143.45,142.24L144.20,142.61L144.95,142.98L145.70,143.35L146.45,143.72L147.20,144.08L147.95,144.45L148.70,144.80L149.45,145.15L150.20,145.48L150.95,145.80L151.70,146.11L152.45,146.42L153.20,146.73L153.95,147.04L154.70,147.35L155.45,147.67L156.20,147.98L156.95,148.29L157.70,148.60L158.45,148.91L159.20,149.21L159.95,149.52L160.70,149.81L161.45,150.10L162.20,150.38L162.95,150.67L163.70,150.96L164.45,151.25L165.20,151.55L165.95,151.85L166.70,152.15L167.45,152.44L168.20,152.73L168.95,153.03L169.70,153.32L170.45,153.61L171.20,153.91L171.95,154.21L172.70,154.50L173.45,154.80L174.20,155.09L174.95,155.38L175.70,155.66L176.45,155.95L177.20,156.24L177.95,156.53L178.70,156.82L179.45,157.10L180.20,157.39L180.95,157.72L181.70,158.05L182.45,158.37L183.20,158.69L183.95,159.03L184.70,159.43L185.45,160.04L186.20,161.04L186.95,162.21L187.70,163.14L188.45,163.80L189.20,164.36L189.95,164.88L190.70,165.38L191.45,165.88L192.20,166.38L192.95,166.89L193.70,167.40L194.45,167.91L195.20,168.43L195.95,168.95L196.70,169.46L197.45,169.97L198.20,170.48L198.95,171.00L199.70,171.53L200.45,172.06L201.20,172.59L201.95,173.16L202.70,173.73L203.45,174.30L204.20,174.87L204.95,175.45L205.70,176.05L206.45,176.66L207.20,177.28L207.95,177.89L208.70,178.50L209.45,179.12L210.20,179.73L210.95,180.33L211.70,180.94L212.45,181.54L213.20,182.15L213.95,182.75L214.70,183.36L215.45,183.97L216.20,184.57L216.95,185.18L217.70,185.79L218.45,186.39L219.20,186.99L219.95,187.59L220.70,188.12L221.45,188.66L222.20,189.19L222.95,189.73L223.70,190.26L224.45,190.80L225.20,191.33L225.95,191.87L226.70,192.41L227.45,192.96L228.20,193.51L228.95,194.06L229.70,194.61L230.45,195.14L231.20,195.65L231.95,196.17L232.70,196.68L233.45,197.19L234.20,197.70L234.95,198.21L235.70,198.72L236.45,199.23L237.20,199.74L237.95,200.25L238.70,200.76L239.45,201.26L240.20,201.76L240.95,202.26L241.70,202.84L242.45,203.42L243.20,204.00L243.95,204.58L244.70,205.16L245.45,205.74L246.20,206.34L246.95,206.99L247.70,207.63L248.45,208.28L249.20,208.92L249.95,209.57L250.70,210.21L251.45,210.86L252.20,211.51L252.95,212.15L253.70,212.80L254.45,213.44L255.20,214.11L255.95,214.82L256.70,215.53L257.45,216.24L258.20,216.95L258.95,217.66L259.70,218.37L260.45,219.08L261.20,219.79L261.95,220.50L262.70,220.98L263.45,221.45L264.20,221.92L264.95,222.39L265.70,222.85L266.45,223.32L267.20,223.79L267.95,224.26L268.70,224.73L269.45,225.19L270.20,225.67L270.95,226.16L271.70,226.65L272.45,227.14L273.20,227.63L273.95,228.12L274.70,228.61L275.45,229.10L276.20,229.59L276.95,230.08L277.70,230.61L278.45,231.13L279.20,231.66L279.95,232.19L280.70,232.72L281.45,233.25L282.20,233.78L282.95,234.30L283.70,234.83L284.45,235.36L285.20,235.90L285.95,236.46L286.70,237.02L287.45,237.58L288.20,238.14L288.95,238.70L289.70,239.26L290.45,239.82L291.20,240.38L291.95,240.94L292.70,241.56L293.45,242.20L294.20,242.83L294.95,243.46L295.70,244.09L296.45,244.72L297.20,245.36L297.95,245.99L298.70,246.71L299.45,247.45L300.20,248.18L300.95,248.91L301.70,249.65L302.45,250.43M24.20,23.80L24.95,24.61L25.70,25.42L26.45,26.23L27.20,27.04L27.95,27.85L28.70,28.47L29.45,29.08L30.20,29.69L30.95,30.30L31.70,30.91L32.45,31.52L33.20,32.11L33.95,32.64L34.70,33.18L35.45,33.71L36.20,34.24L36.95,34.77L37.70,35.31L38.45,35.84L39.20,36.40L39.95,36.97L40.70,37.58L41.45,38.19L42.20,38.81L42.95,39.42L43.70,40.03L44.45,40.65L45.20,41.26L45.95,41.87L46.70,42.48L47.45,43.10L48.20,43.71L48.95,44.32L49.70,44.93L50.45,45.54L51.20,46.15L51.95,46.77L52.70,47.38L53.45,47.99L54.20,48.61L54.95,49.36L55.70,50.11L56.45,50.86L57.20,51.61L57.95,52.36L58.70,53.11L59.45,53.93L60.20,54.75L60.95,55.56L61.70,56.38L62.45,57.26L63.20,58.19L63.95,59.11L64.70,60.04L65.45,61.00L66.20,61.99L66.95,62.98L67.70,63.97L68.45,64.96L69.20,65.95L69.95,66.94L70.70,68.07L71.45,69.20L72.20,70.34L72.95,71.47L73.70,72.61L74.45,73.81L75.20,75.02L75.95,76.23L76.70,77.44L77.45,78.64L78.20,79.84L78.95,81.04L79.70,82.24L80.45,83.43L81.20,84.63L81.95,85.83L82.70,87.01L83.45,88.20L84.20,89.39L84.95,90.58L85.70,91.76L86.45,92.95L87.20,94.14L87.95,95.33L88.70,96.45L89.45,97.57L90.20,98.68L90.95,99.80L91.70,100.92L92.45,102.04L93.20,103.13L93.95,104.09L94.70,105.05L95.45,106.01L96.20,106.94L96.95,107.81L97.70,108.66L98.45,109.52L99.20,110.37L99.95,111.12L100.70,111.84L101.45,112.57L102.20,113.28L102.95,113.99L103.70,114.70L104.45,115.40L105.20,116.09L105.95,116.72L106.70,117.33L107.45,117.92L108.20,118.51L108.95,119.09L109.70,119.67L110.45,120.24L111.20,120.78L111.95,121.33L112.70,121.89L113.45,122.44L114.20,122.99L114.95,123.54L115.70,124.08L116.45,124.62L117.20,125.16L117.95,125.69L118.70,126.22L119.45,126.75L120.20,127.30L120.95,127.83L121.70,128.36L122.45,128.87L123.20,129.38L123.95,129.90L124.70,130.41L125.45,130.92L126.20,131.47L126.95,132.14L127.70,132.74L128.45,133.34L129.20,133.94L129.95,134.54L130.70,135.14L131.45,135.74L132.20,136.34L132.95,136.93L133.70,137.53L134.45,138.12L135.20,138.69L135.95,139.19L136.70,139.69L137.45,140.19L138.20,140.69L138.95,141.19L139.70,141.68L140.45,142.18L141.20,142.68L141.95,143.18L142.70,143.67L143.45,144.14L144.20,144.53L144.95,144.93L145.70,145.32L146.45,145.71L147.20,146.10L147.95,146.49L148.70,146.84L149.45,147.19L150.20,147.53L150.95,147.85L151.70,148.17L152.45,148.49L153.20,148.81L153.95,149.13L154.70,149.45L155.45,149.77L156.20,150.09L156.95,150.41L157.70,150.72L158.45,151.03L159.20,151.35L159.95,151.65L160.70,151.95L161.45,152.24L162.20,152.53L162.95,152.82L163.70,153.11L164.45,153.43L165.20,153.74L165.95,154.04L166.70,154.35L167.45,154.65L168.20,154.96L168.95,155.26L169.70,155.55L170.45,155.85L171.20,156.15L171.95,156.45L172.70,156.74L173.45,157.03L174.20,157.32L174.95,157.60L175.70,157.87L176.45,158.15L177.20,158.44L177.95,158.71L178.70,158.98L179.45,159.24L180.20,159.51L180.95,159.81L181.70,160.11L182.45,160.40L183.20,160.70L183.95,161.03L184.70,161.48L185.45,162.33L186.20,163.88L186.95,165.79L187.70,167.19L188.45,168.01L189.20,168.56L189.95,169.01L190.70,169.44L191.45,169.86L192.20,170.29L192.95,170.72L193.70,171.16L194.45,171.61L195.20,172.06L195.95,172.52L196.70,172.98L197.45,173.44L198.20,173.90L198.95,174.38L199.70,174.88L200.45,175.37L201.20,175.88L201.95,176.41L202.70,176.95L203.45,177.49L204.20,178.03L204.95,178.58L205.70,179.19L206.45,179.80L207.20,180.42L207.95,181.04L208.70,181.66L209.45,182.28L210.20,182.90L210.95,183.51L211.70,184.12L212.45,184.73L213.20,185.35L213.95,185.96L214.70,186.58L215.45,187.19L216.20,187.81L216.95,188.43L217.70,189.04L218.45,189.65L219.20,190.25L219.95,190.86L220.70,191.41L221.45,191.96L222.20,192.52L222.95,193.07L223.70,193.62L224.45,194.17L225.20,194.73L225.95,195.28L226.70,195.85L227.45,196.43L228.20,197.01L228.95,197.59L229.70,198.17L230.45,198.74L231.20,199.29L231.95,199.85L232.70,200.39L233.45,200.93L234.20,201.47L234.95,202.01L235.70,202.55L236.45,203.09L237.20,203.64L237.95,204.18L238.70,204.72L239.45,205.24L240.20,205.76L240.95,206.29L241.70,206.87L242.45,207.46L243.20,208.05L243.95,208.64L244.70,209.23L245.45,209.82L246.20,210.43L246.95,211.09L247.70,211.75L248.45,212.41L249.20,213.07L249.95,213.74L250.70,214.40L251.45,215.06L252.20,215.72L252.95,216.38L253.70,217.04L254.45,217.71L255.20,218.38L255.95,219.11L256.70,219.83L257.45,220.55L258.20,221.27L258.95,221.99L259.70,222.71L260.45,223.44L261.20,224.16L261.95,224.88L262.70,225.40L263.45,225.90L264.20,226.41L264.95,226.91L265.70,227.41L266.45,227.92L267.20,228.42L267.95,228.92L268.70,229.43L269.45,229.93L270.20,230.44L270.95,230.96L271.70,231.48L272.45,232.01L273.20,232.53L273.95,233.05L274.70,233.57L275.45,234.10L276.20,234.62L276.95,235.14L277.70,235.69L278.45,236.24L279.20,236.80L279.95,237.35L280.70,237.90L281.45,238.46L282.20,239.01L282.95,239.56L283.70,240.12L284.45,240.67L285.20,241.23L285.95,241.81L286.70,242.39L287.45,242.97L288.20,243.55L288.95,244.12L289.70,244.70L290.45,245.28L291.20,245.86L291.95,246.44L292.70,247.07L293.45,247.71L294.20,248.35L294.95,248.99L295.70,249.62L296.45,250.26M24.20,23.80L24.95,24.62L25.70,25.43L26.45,26.25L27.20,27.07L27.95,27.89L28.70,28.51L29.45,29.13L30.20,29.74L30.95,30.36L31.70,30.97L32.45,31.58L33.20,32.18L33.95,32.72L34.70,33.26L35.45,33.80L36.20,34.34L36.95,34.88L37.70,35.42L38.45,35.96L39.20,36.52L39.95,37.09L40.70,37.70L41.45,38.31L42.20,38.92L42.95,39.54L43.70,40.15L44.45,40.76L45.20,41.38L45.95,41.99L46.70,42.60L47.45,43.21L48.20,43.82L48.95,44.44L49.70,45.05L50.45,45.66L51.20,46.27L51.95,46.88L52.70,47.50L53.45,48.11L54.20,48.72L54.95,49.47L55.70,50.22L56.45,50.97L57.20,51.72L57.95,52.47L58.70,53.23L59.45,54.05L60.20,54.86L60.95,55.68L61.70,56.50L62.45,57.38L63.20,58.30L63.95,59.23L64.70,60.15L65.45,61.12L66.20,62.11L66.95,63.10L67.70,64.09L68.45,65.08L69.20,66.07L69.95,67.06L70.70,68.18L71.45,69.32L72.20,70.45L72.95,71.59L73.70,72.72L74.45,73.93L75.20,75.14L75.95,76.34L76.70,77.55L77.45,78.76L78.20,79.96L78.95,81.16L79.70,82.35L80.45,83.55L81.20,84.75L81.95,85.94L82.70,87.13L83.45,88.32L84.20,89.51L84.95,90.69L85.70,91.88L86.45,93.07L87.20,94.26L87.95,95.44L88.70,96.57L89.45,97.68L90.20,98.80L90.95,99.92L91.70,101.04L92.45,102.15L93.20,103.25L93.95,104.21L94.70,105.17L95.45,106.13L96.20,107.07L96.95,107.95L97.70,108.83L98.45,109.70L99.20,110.57L99.95,111.34L100.70,112.09L101.45,112.84L102.20,113.58L102.95,114.32L103.70,115.05L104.45,115.78L105.20,116.51L105.95,117.17L106.70,117.80L107.45,118.43L108.20,119.05L108.95,119.67L109.70,120.28L110.45,120.89L111.20,121.47L111.95,122.06L112.70,122.65L113.45,123.24L114.20,123.83L114.95,124.41L115.70,124.99L116.45,125.57L117.20,126.15L117.95,126.72L118.70,127.29L119.45,127.86L120.20,128.44L120.95,129.02L121.70,129.58L122.45,130.13L123.20,130.68L123.95,131.22L124.70,131.76L125.45,132.31L126.20,132.89L126.95,133.56L127.70,134.16L128.45,134.76L129.20,135.37L129.95,135.97L130.70,136.57L131.45,137.17L132.20,137.78L132.95,138.37L133.70,138.97L134.45,139.57L135.20,140.14L135.95,140.66L136.70,141.18L137.45,141.70L138.20,142.22L138.95,142.74L139.70,143.25L140.45,143.77L141.20,144.29L141.95,144.81L142.70,145.32L143.45,145.81L144.20,146.22L144.95,146.63L145.70,147.04L146.45,147.45L147.20,147.86L147.95,148.28L148.70,148.63L149.45,148.99L150.20,149.34L150.95,149.67L151.70,150.00L152.45,150.33L153.20,150.66L153.95,150.99L154.70,151.32L155.45,151.65L156.20,151.98L156.95,152.31L157.70,152.64L158.45,152.96L159.20,153.28L159.95,153.60L160.70,153.91L161.45,154.21L162.20,154.52L162.95,154.82L163.70,155.13L164.45,155.46L165.20,155.80L165.95,156.13L166.70,156.46L167.45,156.79L168.20,157.12L168.95,157.44L169.70,157.77L170.45,158.09L171.20,158.42L171.95,158.75L172.70,159.07L173.45,159.39L174.20,159.71L174.95,160.02L175.70,160.33L176.45,160.65L177.20,160.98L177.95,161.30L178.70,161.61L179.45,161.92L180.20,162.24L180.95,162.60L181.70,162.95L182.45,163.30L183.20,163.66L183.95,164.04L184.70,164.53L185.45,165.33L186.20,166.71L186.95,168.37L187.70,169.61L188.45,170.38L189.20,170.92L189.95,171.39L190.70,171.83L191.45,172.27L192.20,172.72L192.95,173.16L193.70,173.61L194.45,174.06L195.20,174.52L195.95,174.99L196.70,175.45L197.45,175.91L198.20,176.38L198.95,176.86L199.70,177.36L200.45,177.86L201.20,178.38L201.95,178.91L202.70,179.44L203.45,179.98L204.20,180.52L204.95,181.06L205.70,181.69L206.45,182.33L207.20,182.96L207.95,183.60L208.70,184.24L209.45,184.88L210.20,185.52L210.95,186.15L211.70,186.77L212.45,187.40L213.20,188.03L213.95,188.66L214.70,189.29L215.45,189.92L216.20,190.55L216.95,191.18L217.70,191.81L218.45,192.42L219.20,193.03L219.95,193.65L220.70,194.22L221.45,194.79L222.20,195.36L222.95,195.93L223.70,196.50L224.45,197.08L225.20,197.65L225.95,198.22L226.70,198.81L227.45,199.42L228.20,200.03L228.95,200.64L229.70,201.25L230.45,201.84L231.20,202.43L231.95,203.02L232.70,203.59L233.45,204.16L234.20,204.73L234.95,205.30L235.70,205.86L236.45,206.43L237.20,207.00L237.95,207.57L238.70,208.14L239.45,208.68L240.20,209.23L240.95,209.77L241.70,210.36L242.45,210.96L243.20,211.56L243.95,212.15L244.70,212.75L245.45,213.35L246.20,213.97L246.95,214.64L247.70,215.32L248.45,215.99L249.20,216.67L249.95,217.35L250.70,218.02L251.45,218.70L252.20,219.37L252.95,220.05L253.70,220.72L254.45,221.40L255.20,222.09L255.95,222.82L256.70,223.55L257.45,224.29L258.20,225.02L258.95,225.75L259.70,226.48L260.45,227.21L261.20,227.94L261.95,228.68L262.70,229.22L263.45,229.76L264.20,230.29L264.95,230.83L265.70,231.36L266.45,231.90L267.20,232.43L267.95,232.97L268.70,233.50L269.45,234.04L270.20,234.58L270.95,235.13L271.70,235.68L272.45,236.23L273.20,236.78L273.95,237.33L274.70,237.88L275.45,238.43L276.20,238.98L276.95,239.53L277.70,240.10L278.45,240.67L279.20,241.25L279.95,241.82L280.70,242.40L281.45,242.97L282.20,243.55L282.95,244.12L283.70,244.70L284.45,245.27L285.20,245.85L285.95,246.45L286.70,247.04L287.45,247.64L288.20,248.23L288.95,248.83L289.70,249.42L290.45,250.02M24.20,23.80L24.95,24.62L25.70,25.45L26.45,26.27L27.20,27.10L27.95,27.92L28.70,28.55L29.45,29.17L30.20,29.79L30.95,30.41L31.70,31.02L32.45,31.64L33.20,32.24L33.95,32.79L34.70,33.33L35.45,33.88L36.20,34.42L36.95,34.97L37.70,35.52L38.45,36.06L39.20,36.63L39.95,37.19L40.70,37.80L41.45,38.42L42.20,39.03L42.95,39.64L43.70,40.26L44.45,40.87L45.20,41.49L45.95,42.10L46.70,42.71L47.45,43.32L48.20,43.93L48.95,44.54L49.70,45.16L50.45,45.77L51.20,46.38L51.95,46.99L52.70,47.60L53.45,48.22L54.20,48.83L54.95,49.58L55.70,50.33L56.45,51.08L57.20,51.83L57.95,52.58L58.70,53.34L59.45,54.16L60.20,54.97L60.95,55.79L61.70,56.60L62.45,57.49L63.20,58.41L63.95,59.34L64.70,60.26L65.45,61.22L66.20,62.21L66.95,63.20L67.70,64.19L68.45,65.18L69.20,66.17L69.95,67.16L70.70,68.29L71.45,69.43L72.20,70.56L72.95,71.70L73.70,72.83L74.45,74.04L75.20,75.25L75.95,76.45L76.70,77.66L77.45,78.87L78.20,80.07L78.95,81.27L79.70,82.46L80.45,83.66L81.20,84.85L81.95,86.05L82.70,87.24L83.45,88.43L84.20,89.61L84.95,90.80L85.70,91.99L86.45,93.18L87.20,94.36L87.95,95.55L88.70,96.67L89.45,97.79L90.20,98.91L90.95,100.03L91.70,101.14L92.45,102.26L93.20,103.36L93.95,104.32L94.70,105.28L95.45,106.24L96.20,107.18L96.95,108.08L97.70,108.97L98.45,109.87L99.20,110.76L99.95,111.54L100.70,112.32L101.45,113.09L102.20,113.86L102.95,114.62L103.70,115.38L104.45,116.13L105.20,116.89L105.95,117.57L106.70,118.24L107.45,118.89L108.20,119.55L108.95,120.20L109.70,120.85L110.45,121.49L111.20,122.11L111.95,122.73L112.70,123.36L113.45,123.98L114.20,124.60L114.95,125.22L115.70,125.83L116.45,126.45L117.20,127.06L117.95,127.67L118.70,128.28L119.45,128.89L120.20,129.50L120.95,130.12L121.70,130.71L122.45,131.29L123.20,131.87L123.95,132.44L124.70,133.02L125.45,133.59L126.20,134.20L126.95,134.87L127.70,135.47L128.45,136.08L129.20,136.68L129.95,137.29L130.70,137.89L131.45,138.50L132.20,139.10L132.95,139.70L133.70,140.30L134.45,140.90L135.20,141.48L135.95,142.02L136.70,142.56L137.45,143.10L138.20,143.64L138.95,144.17L139.70,144.71L140.45,145.25L141.20,145.78L141.95,146.32L142.70,146.85L143.45,147.35L144.20,147.78L144.95,148.21L145.70,148.64L146.45,149.08L147.20,149.51L147.95,149.94L148.70,150.30L149.45,150.66L150.20,151.02L150.95,151.36L151.70,151.70L152.45,152.04L153.20,152.39L153.95,152.73L154.70,153.07L155.45,153.41L156.20,153.75L156.95,154.09L157.70,154.44L158.45,154.77L159.20,155.10L159.95,155.44L160.70,155.76L161.45,156.08L162.20,156.40L162.95,156.72L163.70,157.05L164.45,157.41L165.20,157.78L165.95,158.14L166.70,158.50L167.45,158.86L168.20,159.22L168.95,159.58L169.70,159.93L170.45,160.30L171.20,160.66L171.95,161.03L172.70,161.40L173.45,161.76L174.20,162.12L174.95,162.48L175.70,162.84L176.45,163.22L177.20,163.60L177.95,163.99L178.70,164.37L179.45,164.75L180.20,165.14L180.95,165.59L181.70,166.04L182.45,166.48L183.20,166.93L183.95,167.38L184.70,167.89L185.45,168.54L186.20,169.48L186.95,170.51L187.70,171.36L188.45,172.00L189.20,172.54L189.95,173.05L190.70,173.55L191.45,174.05L192.20,174.55L192.95,175.03L193.70,175.52L194.45,176.00L195.20,176.49L195.95,176.98L196.70,177.47L197.45,177.96L198.20,178.45L198.95,178.95L199.70,179.48L200.45,180.00L201.20,180.53L201.95,181.07L202.70,181.61L203.45,182.16L204.20,182.71L204.95,183.26L205.70,183.91L206.45,184.57L207.20,185.23L207.95,185.89L208.70,186.56L209.45,187.22L210.20,187.88L210.95,188.53L211.70,189.17L212.45,189.82L213.20,190.46L213.95,191.11L214.70,191.75L215.45,192.40L216.20,193.05L216.95,193.69L217.70,194.33L218.45,194.96L219.20,195.58L219.95,196.20L220.70,196.79L221.45,197.38L222.20,197.97L222.95,198.56L223.70,199.15L224.45,199.74L225.20,200.33L225.95,200.92L226.70,201.54L227.45,202.17L228.20,202.81L228.95,203.44L229.70,204.08L230.45,204.70L231.20,205.32L231.95,205.94L232.70,206.54L233.45,207.13L234.20,207.73L234.95,208.32L235.70,208.92L236.45,209.51L237.20,210.11L237.95,210.70L238.70,211.29L239.45,211.86L240.20,212.42L240.95,212.98L241.70,213.58L242.45,214.19L243.20,214.79L243.95,215.40L244.70,216.00L245.45,216.61L246.20,217.23L246.95,217.92L247.70,218.61L248.45,219.30L249.20,219.99L249.95,220.68L250.70,221.37L251.45,222.05L252.20,222.74L252.95,223.43L253.70,224.12L254.45,224.81L255.20,225.51L255.95,226.25L256.70,226.99L257.45,227.73L258.20,228.48L258.95,229.22L259.70,229.96L260.45,230.70L261.20,231.44L261.95,232.18L262.70,232.75L263.45,233.32L264.20,233.88L264.95,234.45L265.70,235.01L266.45,235.57L267.20,236.14L267.95,236.70L268.70,237.27L269.45,237.83L270.20,238.40L270.95,238.97L271.70,239.55L272.45,240.12L273.20,240.70L273.95,241.27L274.70,241.85L275.45,242.42L276.20,243.00L276.95,243.57L277.70,244.17L278.45,244.76L279.20,245.36L279.95,245.95L280.70,246.55L281.45,247.14L282.20,247.74L282.95,248.33L283.70,248.92L284.45,249.52L285.20,250.12M24.20,23.80L24.95,24.63L25.70,25.46L26.45,26.29L27.20,27.12L27.95,27.95L28.70,28.59L29.45,29.21L30.20,29.83L30.95,30.45L31.70,31.07L32.45,31.69L33.20,32.30L33.95,32.85L34.70,33.40L35.45,33.95L36.20,34.50L36.95,35.06L37.70,35.61L38.45,36.16L39.20,36.72L39.95,37.29L40.70,37.90L41.45,38.52L42.20,39.13L42.95,39.74L43.70,40.36L44.45,40.97L45.20,41.58L45.95,42.20L46.70,42.81L47.45,43.42L48.20,44.03L48.95,44.64L49.70,45.25L50.45,45.87L51.20,46.48L51.95,47.09L52.70,47.70L53.45,48.32L54.20,48.93L54.95,49.68L55.70,50.43L56.45,51.18L57.20,51.93L57.95,52.68L58.70,53.44L59.45,54.25L60.20,55.07L60.95,55.89L61.70,56.70L62.45,57.58L63.20,58.51L63.95,59.43L64.70,60.36L65.45,61.32L66.20,62.31L66.95,63.30L67.70,64.29L68.45,65.28L69.20,66.27L69.95,67.26L70.70,68.39L71.45,69.52L72.20,70.66L72.95,71.79L73.70,72.93L74.45,74.14L75.20,75.34L75.95,76.55L76.70,77.76L77.45,78.97L78.20,80.17L78.95,81.36L79.70,82.56L80.45,83.76L81.20,84.95L81.95,86.15L82.70,87.34L83.45,88.53L84.20,89.71L84.95,90.90L85.70,92.09L86.45,93.28L87.20,94.46L87.95,95.65L88.70,96.77L89.45,97.89L90.20,99.01L90.95,100.13L91.70,101.24L92.45,102.36L93.20,103.46L93.95,104.42L94.70,105.38L95.45,106.33L96.20,107.28L96.95,108.20L97.70,109.11L98.45,110.02L99.20,110.93L99.95,111.73L100.70,112.53L101.45,113.32L102.20,114.11L102.95,114.89L103.70,115.68L104.45,116.46L105.20,117.24L105.95,117.95L106.70,118.64L107.45,119.32L108.20,120.01L108.95,120.69L109.70,121.37L110.45,122.04L111.20,122.69L111.95,123.35L112.70,124.00L113.45,124.65L114.20,125.30L114.95,125.95L115.70,126.60L116.45,127.25L117.20,127.90L117.95,128.54L118.70,129.18L119.45,129.83L120.20,130.47L120.95,131.12L121.70,131.75L122.45,132.35L123.20,132.96L123.95,133.56L124.70,134.17L125.45,134.77L126.20,135.40L126.95,136.07L127.70,136.68L128.45,137.28L129.20,137.89L129.95,138.50L130.70,139.11L131.45,139.71L132.20,140.32L132.95,140.92L133.70,141.52L134.45,142.12L135.20,142.71L135.95,143.26L136.70,143.82L137.45,144.38L138.20,144.93L138.95,145.48L139.70,146.04L140.45,146.59L141.20,147.15L141.95,147.70L142.70,148.25L143.45,148.76L144.20,149.21L144.95,149.66L145.70,150.11L146.45,150.55L147.20,151.00L147.95,151.45L148.70,151.82L149.45,152.18L150.20,152.55L150.95,152.90L151.70,153.25L152.45,153.60L153.20,153.95L153.95,154.30L154.70,154.65L155.45,155.01L156.20,155.36L156.95,155.71L157.70,156.06L158.45,156.40L159.20,156.74L159.95,157.09L160.70,157.42L161.45,157.75L162.20,158.09L162.95,158.42L163.70,158.76L164.45,159.14L165.20,159.53L165.95,159.91L166.70,160.29L167.45,160.67L168.20,161.06L168.95,161.44L169.70,161.82L170.45,162.21L171.20,162.60L171.95,162.99L172.70,163.38L173.45,163.78L174.20,164.17L174.95,164.55L175.70,164.94L176.45,165.35L177.20,165.78L177.95,166.20L178.70,166.63L179.45,167.05L180.20,167.49L180.95,167.99L181.70,168.49L182.45,168.99L183.20,169.48L183.95,169.99L184.70,170.52L185.45,171.13L186.20,171.88L186.95,172.67L187.70,173.36L188.45,173.94L189.20,174.49L189.95,175.01L190.70,175.53L191.45,176.05L192.20,176.57L192.95,177.06L193.70,177.55L194.45,178.05L195.20,178.54L195.95,179.04L196.70,179.53L197.45,180.03L198.20,180.52L198.95,181.03L199.70,181.56L200.45,182.09L201.20,182.62L201.95,183.17L202.70,183.71L203.45,184.26L204.20,184.80L204.95,185.35L205.70,186.02L206.45,186.70L207.20,187.38L207.95,188.06L208.70,188.74L209.45,189.42L210.20,190.09L210.95,190.75L211.70,191.41L212.45,192.07L213.20,192.72L213.95,193.38L214.70,194.04L215.45,194.70L216.20,195.36L216.95,196.02L217.70,196.67L218.45,197.30L219.20,197.93L219.95,198.56L220.70,199.17L221.45,199.77L222.20,200.38L222.95,200.99L223.70,201.59L224.45,202.20L225.20,202.80L225.95,203.41L226.70,204.04L227.45,204.70L228.20,205.36L228.95,206.02L229.70,206.68L230.45,207.33L231.20,207.98L231.95,208.63L232.70,209.25L233.45,209.86L234.20,210.48L234.95,211.10L235.70,211.72L236.45,212.34L237.20,212.96L237.95,213.57L238.70,214.19L239.45,214.77L240.20,215.35L240.95,215.93L241.70,216.54L242.45,217.15L243.20,217.76L243.95,218.37L244.70,218.98L245.45,219.59L246.20,220.23L246.95,220.93L247.70,221.63L248.45,222.33L249.20,223.03L249.95,223.73L250.70,224.43L251.45,225.13L252.20,225.83L252.95,226.53L253.70,227.24L254.45,227.94L255.20,228.65L255.95,229.40L256.70,230.15L257.45,230.90L258.20,231.65L258.95,232.39L259.70,233.14L260.45,233.89L261.20,234.64L261.95,235.39L262.70,235.99L263.45,236.58L264.20,237.17L264.95,237.76L265.70,238.35L266.45,238.94L267.20,239.53L267.95,240.12L268.70,240.71L269.45,241.30L270.20,241.90L270.95,242.50L271.70,243.09L272.45,243.69L273.20,244.29L273.95,244.89L274.70,245.49L275.45,246.09L276.20,246.69L276.95,247.29L277.70,247.90L278.45,248.51L279.20,249.12L279.95,249.74L280.70,250.35M24.20,23.80L24.95,24.64L25.70,25.47L26.45,26.31L27.20,27.15L27.95,27.98L28.70,28.62L29.45,29.25L30.20,29.87L30.95,30.49L31.70,31.12L32.45,31.74L33.20,32.35L33.95,32.91L34.70,33.46L35.45,34.02L36.20,34.58L36.95,35.13L37.70,35.69L38.45,36.25L39.20,36.81L39.95,37.38L40.70,37.99L41.45,38.61L42.20,39.22L42.95,39.83L43.70,40.45L44.45,41.06L45.20,41.67L45.95,42.29L46.70,42.90L47.45,43.51L48.20,44.12L48.95,44.73L49.70,45.34L50.45,45.96L51.20,46.57L51.95,47.18L52.70,47.79L53.45,48.41L54.20,49.02L54.95,49.77L55.70,50.52L56.45,51.27L57.20,52.02L57.95,52.77L58.70,53.53L59.45,54.34L60.20,55.16L60.95,55.98L61.70,56.79L62.45,57.67L63.20,58.60L63.95,59.52L64.70,60.45L65.45,61.41L66.20,62.40L66.95,63.39L67.70,64.38L68.45,65.37L69.20,66.36L69.95,67.35L70.70,68.48L71.45,69.61L72.20,70.75L72.95,71.88L73.70,73.02L74.45,74.23L75.20,75.43L75.95,76.64L76.70,77.85L77.45,79.06L78.20,80.26L78.95,81.45L79.70,82.65L80.45,83.85L81.20,85.04L81.95,86.24L82.70,87.43L83.45,88.62L84.20,89.80L84.95,90.99L85.70,92.18L86.45,93.37L87.20,94.55L87.95,95.74L88.70,96.86L89.45,97.98L90.20,99.10L90.95,100.22L91.70,101.33L92.45,102.45L93.20,103.55L93.95,104.51L94.70,105.47L95.45,106.42L96.20,107.38L96.95,108.31L97.70,109.23L98.45,110.16L99.20,111.09L99.95,111.90L100.70,112.72L101.45,113.53L102.20,114.34L102.95,115.14L103.70,115.95L104.45,116.75L105.20,117.55L105.95,118.28L106.70,119.00L107.45,119.71L108.20,120.42L108.95,121.13L109.70,121.84L110.45,122.55L111.20,123.23L111.95,123.91L112.70,124.59L113.45,125.27L114.20,125.95L114.95,126.63L115.70,127.30L116.45,127.98L117.20,128.66L117.95,129.33L118.70,130.01L119.45,130.68L120.20,131.36L120.95,132.03L121.70,132.69L122.45,133.32L123.20,133.95L123.95,134.58L124.70,135.21L125.45,135.84L126.20,136.48L126.95,137.16L127.70,137.77L128.45,138.38L129.20,138.99L129.95,139.60L130.70,140.21L131.45,140.82L132.20,141.43L132.95,142.03L133.70,142.63L134.45,143.23L135.20,143.82L135.95,144.39L136.70,144.97L137.45,145.54L138.20,146.11L138.95,146.68L139.70,147.25L140.45,147.81L141.20,148.38L141.95,148.95L142.70,149.52L143.45,150.04L144.20,150.50L144.95,150.97L145.70,151.43L146.45,151.89L147.20,152.36L147.95,152.82L148.70,153.20L149.45,153.56L150.20,153.93L150.95,154.29L151.70,154.65L152.45,155.01L153.20,155.37L153.95,155.73L154.70,156.08L155.45,156.44L156.20,156.80L156.95,157.16L157.70,157.52L158.45,157.87L159.20,158.22L159.95,158.57L160.70,158.91L161.45,159.25L162.20,159.60L162.95,159.94L163.70,160.29L164.45,160.69L165.20,161.09L165.95,161.49L166.70,161.89L167.45,162.28L168.20,162.68L168.95,163.08L169.70,163.48L170.45,163.88L171.20,164.29L171.95,164.70L172.70,165.11L173.45,165.52L174.20,165.93L174.95,166.34L175.70,166.75L176.45,167.18L177.20,167.63L177.95,168.08L178.70,168.53L179.45,168.98L180.20,169.45L180.95,169.98L181.70,170.51L182.45,171.04L183.20,171.57L183.95,172.10L184.70,172.66L185.45,173.27L186.20,174.00L186.95,174.73L187.70,175.39L188.45,175.97L189.20,176.51L189.95,177.03L190.70,177.55L191.45,178.07L192.20,178.59L192.95,179.08L193.70,179.57L194.45,180.06L195.20,180.55L195.95,181.04L196.70,181.52L197.45,182.01L198.20,182.50L198.95,183.01L199.70,183.54L200.45,184.07L201.20,184.60L201.95,185.14L202.70,185.68L203.45,186.22L204.20,186.76L204.95,187.30L205.70,187.98L206.45,188.67L207.20,189.36L207.95,190.05L208.70,190.75L209.45,191.44L210.20,192.13L210.95,192.80L211.70,193.46L212.45,194.13L213.20,194.80L213.95,195.47L214.70,196.14L215.45,196.81L216.20,197.48L216.95,198.15L217.70,198.81L218.45,199.44L219.20,200.08L219.95,200.71L220.70,201.34L221.45,201.95L222.20,202.57L222.95,203.19L223.70,203.81L224.45,204.43L225.20,205.05L225.95,205.67L226.70,206.32L227.45,207.01L228.20,207.69L228.95,208.37L229.70,209.05L230.45,209.72L231.20,210.40L231.95,211.07L232.70,211.71L233.45,212.35L234.20,212.99L234.95,213.63L235.70,214.27L236.45,214.91L237.20,215.55L237.95,216.19L238.70,216.82L239.45,217.42L240.20,218.01L240.95,218.61L241.70,219.23L242.45,219.84L243.20,220.46L243.95,221.08L244.70,221.69L245.45,222.31L246.20,222.95L246.95,223.66L247.70,224.37L248.45,225.09L249.20,225.80L249.95,226.51L250.70,227.22L251.45,227.93L252.20,228.64L252.95,229.36L253.70,230.07L254.45,230.78L255.20,231.50L255.95,232.26L256.70,233.01L257.45,233.77L258.20,234.53L258.95,235.28L259.70,236.04L260.45,236.80L261.20,237.55L261.95,238.31L262.70,238.93L263.45,239.55L264.20,240.16L264.95,240.78L265.70,241.39L266.45,242.01L267.20,242.62L267.95,243.23L268.70,243.85L269.45,244.46L270.20,245.08L270.95,245.70L271.70,246.32L272.45,246.94L273.20,247.56L273.95,248.18L274.70,248.80L275.45,249.42L276.20,250.04M24.20,23.80L24.95,24.64L25.70,25.49L26.45,26.33L27.20,27.17L27.95,28.01L28.70,28.66L29.45,29.28L30.20,29.91L30.95,30.54L31.70,31.16L32.45,31.79L33.20,32.40L33.95,32.96L34.70,33.52L35.45,34.09L36.20,34.65L36.95,35.21L37.70,35.77L38.45,36.34L39.20,36.90L39.95,37.47L40.70,38.08L41.45,38.70L42.20,39.31L42.95,39.92L43.70,40.54L44.45,41.15L45.20,41.76L45.95,42.38L46.70,42.99L47.45,43.60L48.20,44.21L48.95,44.82L49.70,45.43L50.45,46.05L51.20,46.66L51.95,47.27L52.70,47.88L53.45,48.50L54.20,49.11L54.95,49.86L55.70,50.61L56.45,51.36L57.20,52.11L57.95,52.86L58.70,53.62L59.45,54.43L60.20,55.25L60.95,56.07L61.70,56.88L62.45,57.76L63.20,58.69L63.95,59.61L64.70,60.54L65.45,61.50L66.20,62.49L66.95,63.48L67.70,64.47L68.45,65.46L69.20,66.45L69.95,67.44L70.70,68.57L71.45,69.70L72.20,70.84L72.95,71.97L73.70,73.11L74.45,74.32L75.20,75.52L75.95,76.73L76.70,77.94L77.45,79.15L78.20,80.35L78.95,81.54L79.70,82.74L80.45,83.94L81.20,85.13L81.95,86.33L82.70,87.52L83.45,88.71L84.20,89.89L84.95,91.08L85.70,92.27L86.45,93.46L87.20,94.64L87.95,95.83L88.70,96.95L89.45,98.07L90.20,99.19L90.95,100.31L91.70,101.42L92.45,102.54L93.20,103.64L93.95,104.60L94.70,105.56L95.45,106.51L96.20,107.47L96.95,108.41L97.70,109.36L98.45,110.30L99.20,111.24L99.95,112.08L100.70,112.91L101.45,113.74L102.20,114.56L102.95,115.39L103.70,116.22L104.45,117.04L105.20,117.87L105.95,118.62L106.70,119.36L107.45,120.10L108.20,120.84L108.95,121.58L109.70,122.31L110.45,123.05L111.20,123.76L111.95,124.46L112.70,125.17L113.45,125.88L114.20,126.59L114.95,127.30L115.70,128.00L116.45,128.71L117.20,129.42L117.95,130.12L118.70,130.83L119.45,131.53L120.20,132.24L120.95,132.95L121.70,133.63L122.45,134.29L123.20,134.94L123.95,135.60L124.70,136.26L125.45,136.91L126.20,137.57L126.95,138.25L127.70,138.86L128.45,139.47L129.20,140.08L129.95,140.70L130.70,141.31L131.45,141.92L132.20,142.53L132.95,143.14L133.70,143.74L134.45,144.34L135.20,144.94L135.95,145.52L136.70,146.11L137.45,146.70L138.20,147.28L138.95,147.87L139.70,148.45L140.45,149.04L141.20,149.62L141.95,150.21L142.70,150.79L143.45,151.32L144.20,151.80L144.95,152.28L145.70,152.76L146.45,153.24L147.20,153.71L147.95,154.19L148.70,154.57L149.45,154.94L150.20,155.31L150.95,155.68L151.70,156.05L152.45,156.41L153.20,156.78L153.95,157.15L154.70,157.52L155.45,157.88L156.20,158.25L156.95,158.62L157.70,158.98L158.45,159.34L159.20,159.70L159.95,160.05L160.70,160.40L161.45,160.76L162.20,161.11L162.95,161.46L163.70,161.82L164.45,162.24L165.20,162.65L165.95,163.07L166.70,163.48L167.45,163.90L168.20,164.31L168.95,164.73L169.70,165.14L170.45,165.57L171.20,166.00L171.95,166.43L172.70,166.86L173.45,167.29L174.20,167.71L174.95,168.14L175.70,168.57L176.45,169.03L177.20,169.50L177.95,169.98L178.70,170.46L179.45,170.93L180.20,171.43L180.95,171.99L181.70,172.56L182.45,173.12L183.20,173.68L183.95,174.25L184.70,174.83L185.45,175.45L186.20,176.12L186.95,176.78L187.70,177.39L188.45,177.95L189.20,178.49L189.95,179.01L190.70,179.54L191.45,180.06L192.20,180.59L192.95,181.07L193.70,181.56L194.45,182.04L195.20,182.53L195.95,183.01L196.70,183.50L197.45,183.98L198.20,184.47L198.95,184.98L199.70,185.51L200.45,186.03L201.20,186.56L201.95,187.10L202.70,187.63L203.45,188.17L204.20,188.70L204.95,189.24L205.70,189.93L206.45,190.64L207.20,191.34L207.95,192.05L208.70,192.75L209.45,193.46L210.20,194.16L210.95,194.84L211.70,195.52L212.45,196.20L213.20,196.88L213.95,197.55L214.70,198.23L215.45,198.91L216.20,199.59L216.95,200.27L217.70,200.94L218.45,201.58L219.20,202.22L219.95,202.87L220.70,203.50L221.45,204.13L222.20,204.77L222.95,205.40L223.70,206.03L224.45,206.67L225.20,207.30L225.95,207.94L226.70,208.61L227.45,209.31L228.20,210.01L228.95,210.71L229.70,211.41L230.45,212.11L231.20,212.81L231.95,213.51L232.70,214.17L233.45,214.83L234.20,215.49L234.95,216.16L235.70,216.82L236.45,217.48L237.20,218.14L237.95,218.80L238.70,219.45L239.45,220.06L240.20,220.68L240.95,221.29L241.70,221.91L242.45,222.53L243.20,223.16L243.95,223.78L244.70,224.40L245.45,225.02L246.20,225.67L246.95,226.40L247.70,227.12L248.45,227.84L249.20,228.56L249.95,229.29L250.70,230.01L251.45,230.73L252.20,231.45L252.95,232.18L253.70,232.90L254.45,233.62L255.20,234.35L255.95,235.12L256.70,235.88L257.45,236.65L258.20,237.41L258.95,238.17L259.70,238.94L260.45,239.70L261.20,240.47L261.95,241.23L262.70,241.88L263.45,242.51L264.20,243.15L264.95,243.79L265.70,244.43L266.45,245.07L267.20,245.71L267.95,246.34L268.70,246.98L269.45,247.62L270.20,248.26L270.95,248.90L271.70,249.54L272.45,250.18M24.20,23.80L24.95,24.65L25.70,25.50L26.45,26.35L27.20,27.19L27.95,28.04L28.70,28.69L29.45,29.32L30.20,29.95L30.95,30.58L31.70,31.21L32.45,31.84L33.20,32.45L33.95,33.02L34.70,33.59L35.45,34.15L36.20,34.72L36.95,35.29L37.70,35.86L38.45,36.43L39.20,36.99L39.95,37.56L40.70,38.17L41.45,38.79L42.20,39.40L42.95,40.01L43.70,40.63L44.45,41.24L45.20,41.85L45.95,42.47L46.70,43.08L47.45,43.69L48.20,44.30L48.95,44.91L49.70,45.52L50.45,46.14L51.20,46.75L51.95,47.36L52.70,47.97L53.45,48.59L54.20,49.20L54.95,49.95L55.70,50.70L56.45,51.45L57.20,52.20L57.95,52.95L58.70,53.71L59.45,54.52L60.20,55.34L60.95,56.16L61.70,56.97L62.45,57.85L63.20,58.78L63.95,59.70L64.70,60.63L65.45,61.59L66.20,62.58L66.95,63.57L67.70,64.56L68.45,65.55L69.20,66.54L69.95,67.53L70.70,68.66L71.45,69.79L72.20,70.93L72.95,72.06L73.70,73.20L74.45,74.41L75.20,75.61L75.95,76.82L76.70,78.03L77.45,79.24L78.20,80.44L78.95,81.63L79.70,82.83L80.45,84.03L81.20,85.22L81.95,86.42L82.70,87.61L83.45,88.80L84.20,89.98L84.95,91.17L85.70,92.36L86.45,93.55L87.20,94.73L87.95,95.92L88.70,97.04L89.45,98.16L90.20,99.28L90.95,100.40L91.70,101.51L92.45,102.63L93.20,103.73L93.95,104.69L94.70,105.65L95.45,106.60L96.20,107.56L96.95,108.52L97.70,109.48L98.45,110.44L99.20,111.40L99.95,112.25L100.70,113.10L101.45,113.95L102.20,114.79L102.95,115.64L103.70,116.49L104.45,117.34L105.20,118.19L105.95,118.96L106.70,119.73L107.45,120.49L108.20,121.26L108.95,122.02L109.70,122.78L110.45,123.55L111.20,124.29L111.95,125.02L112.70,125.76L113.45,126.50L114.20,127.23L114.95,127.97L115.70,128.71L116.45,129.44L117.20,130.18L117.95,130.91L118.70,131.65L119.45,132.39L120.20,133.12L120.95,133.86L121.70,134.57L122.45,135.25L123.20,135.94L123.95,136.62L124.70,137.30L125.45,137.98L126.20,138.66L126.95,139.34L127.70,139.95L128.45,140.57L129.20,141.18L129.95,141.79L130.70,142.41L131.45,143.02L132.20,143.64L132.95,144.24L133.70,144.84L134.45,145.45L135.20,146.05L135.95,146.65L136.70,147.25L137.45,147.86L138.20,148.46L138.95,149.06L139.70,149.66L140.45,150.26L141.20,150.86L141.95,151.46L142.70,152.06L143.45,152.59L144.20,153.09L144.95,153.58L145.70,154.08L146.45,154.57L147.20,155.07L147.95,155.56L148.70,155.95L149.45,156.32L150.20,156.70L150.95,157.07L151.70,157.44L152.45,157.82L153.20,158.19L153.95,158.57L154.70,158.94L155.45,159.32L156.20,159.69L156.95,160.07L157.70,160.44L158.45,160.81L159.20,161.17L159.95,161.53L160.70,161.89L161.45,162.25L162.20,162.61L162.95,162.97L163.70,163.34L164.45,163.77L165.20,164.20L165.95,164.63L166.70,165.06L167.45,165.50L168.20,165.93L168.95,166.36L169.70,166.79L170.45,167.23L171.20,167.67L171.95,168.12L172.70,168.57L173.45,169.01L174.20,169.46L174.95,169.90L175.70,170.34L176.45,170.82L177.20,171.32L177.95,171.82L178.70,172.32L179.45,172.81L180.20,173.34L180.95,173.93L181.70,174.52L182.45,175.11L183.20,175.70L183.95,176.29L184.70,176.90L185.45,177.54L186.20,178.22L186.95,178.88L187.70,179.49L188.45,180.05L189.20,180.58L189.95,181.10L190.70,181.62L191.45,182.14L192.20,182.66L192.95,183.14L193.70,183.62L194.45,184.09L195.20,184.57L195.95,185.04L196.70,185.52L197.45,186.00L198.20,186.47L198.95,186.98L199.70,187.51L200.45,188.03L201.20,188.56L201.95,189.09L202.70,189.61L203.45,190.14L204.20,190.67L204.95,191.20L205.70,191.90L206.45,192.62L207.20,193.34L207.95,194.06L208.70,194.77L209.45,195.49L210.20,196.20L210.95,196.89L211.70,197.58L212.45,198.27L213.20,198.96L213.95,199.65L214.70,200.33L215.45,201.02L216.20,201.71L216.95,202.40L217.70,203.08L218.45,203.73L219.20,204.37L219.95,205.02L220.70,205.67L221.45,206.32L222.20,206.96L222.95,207.61L223.70,208.26L224.45,208.91L225.20,209.55L225.95,210.20L226.70,210.89L227.45,211.61L228.20,212.34L228.95,213.06L229.70,213.78L230.45,214.51L231.20,215.23L231.95,215.95L232.70,216.64L233.45,217.32L234.20,218.00L234.95,218.68L235.70,219.36L236.45,220.05L237.20,220.73L237.95,221.41L238.70,222.08L239.45,222.71L240.20,223.34L240.95,223.97L241.70,224.60L242.45,225.23L243.20,225.85L243.95,226.48L244.70,227.11L245.45,227.74L246.20,228.40L246.95,229.13L247.70,229.86L248.45,230.60L249.20,231.33L249.95,232.06L250.70,232.80L251.45,233.53L252.20,234.26L252.95,235.00L253.70,235.73L254.45,236.46L255.20,237.21L255.95,237.98L256.70,238.75L257.45,239.52L258.20,240.29L258.95,241.06L259.70,241.83L260.45,242.61L261.20,243.38L261.95,244.15L262.70,244.82L263.45,245.48L264.20,246.14L264.95,246.81L265.70,247.47L266.45,248.13L267.20,248.79L267.95,249.46L268.70,250.12" fill="none" stroke="#262626" stroke-width="0.95" stroke-linejoin="round"/>
<path d="M24.20,23.80C24.93,24.12 27.13,25.07 28.60,25.70C30.07,26.33 31.60,26.98 33.00,27.60C34.40,28.22 35.67,28.73 37.00,29.40C38.33,30.07 39.58,30.75 41.00,31.60C42.42,32.45 44.00,33.55 45.50,34.50C47.00,35.45 48.80,36.42 50.00,37.30C51.20,38.18 52.42,39.95 52.70,39.80C52.98,39.65 51.72,37.27 51.70,36.40C51.68,35.53 52.15,35.08 52.60,34.60C53.05,34.12 53.72,33.75 54.40,33.50C55.08,33.25 55.80,33.10 56.70,33.10C57.60,33.10 58.63,33.17 59.80,33.50C60.97,33.83 62.40,34.45 63.70,35.10C65.00,35.75 66.30,36.43 67.60,37.40C68.90,38.37 70.32,39.78 71.50,40.90C72.68,42.02 73.73,42.98 74.70,44.10C75.67,45.22 76.17,46.03 77.30,47.60C78.43,49.17 80.08,51.38 81.50,53.50C82.92,55.62 83.95,57.50 85.80,60.30C87.65,63.10 90.13,67.18 92.60,70.30C95.07,73.42 98.52,76.47 100.60,79.00C102.68,81.53 102.88,82.57 105.10,85.50C107.32,88.43 111.42,93.58 113.90,96.60C116.38,99.62 117.97,101.33 120.00,103.60C122.03,105.87 124.43,108.47 126.10,110.20C127.77,111.93 128.07,112.17 130.00,114.00C131.93,115.83 135.35,118.85 137.70,121.20C140.05,123.55 142.18,126.07 144.10,128.10C146.02,130.13 147.28,132.05 149.20,133.40C151.12,134.75 153.80,135.47 155.60,136.20C157.40,136.93 158.73,137.35 160.00,137.80C161.27,138.25 161.53,138.28 163.20,138.90C164.87,139.52 167.78,140.68 170.00,141.50C172.22,142.32 174.83,143.20 176.50,143.80C178.17,144.40 178.20,144.42 180.00,145.10C181.80,145.78 184.87,146.75 187.30,147.90C189.73,149.05 192.32,150.57 194.60,152.00C196.88,153.43 198.43,154.80 201.00,156.50C203.57,158.20 206.83,160.22 210.00,162.20C213.17,164.18 216.67,166.30 220.00,168.40C223.33,170.50 226.00,172.15 230.00,174.80C234.00,177.45 239.67,181.53 244.00,184.30C248.33,187.07 252.33,189.32 256.00,191.40C259.67,193.48 262.33,194.75 266.00,196.80C269.67,198.85 275.00,202.02 278.00,203.70C281.00,205.38 281.00,205.25 284.00,206.90C287.00,208.55 293.40,212.08 296.00,213.60C298.60,215.12 298.77,215.35 299.60,216.00C300.43,216.65 300.43,216.75 301.00,217.50C301.57,218.25 302.33,219.45 303.00,220.50C303.67,221.55 304.37,222.75 305.00,223.80C305.63,224.85 306.22,226.03 306.80,226.80C307.38,227.57 307.47,227.62 308.50,228.40C309.53,229.18 311.42,230.42 313.00,231.50C314.58,232.58 316.50,233.92 318.00,234.90C319.50,235.88 321.33,236.98 322.00,237.40M24.20,23.80C24.83,24.42 26.53,26.23 28.00,27.50C29.47,28.77 31.00,29.95 33.00,31.40C35.00,32.85 37.92,34.70 40.00,36.20C42.08,37.70 43.67,39.02 45.50,40.40C47.33,41.78 49.55,43.47 51.00,44.50C52.45,45.53 52.93,45.63 54.20,46.60C55.47,47.57 57.30,49.15 58.60,50.30C59.90,51.45 60.85,52.28 62.00,53.50C63.15,54.72 64.42,56.27 65.50,57.60C66.58,58.93 67.55,60.18 68.50,61.50C69.45,62.82 70.42,64.37 71.20,65.50C71.98,66.63 72.48,67.73 73.20,68.30C73.92,68.87 74.67,68.60 75.50,68.90C76.33,69.20 77.28,69.58 78.20,70.10C79.12,70.62 80.03,71.22 81.00,72.00C81.97,72.78 82.93,73.73 84.00,74.80C85.07,75.87 85.83,76.67 87.40,78.40C88.97,80.13 91.63,83.17 93.40,85.20C95.17,87.23 96.52,88.83 98.00,90.60C99.48,92.37 100.57,93.70 102.30,95.80C104.03,97.90 106.37,100.87 108.40,103.20C110.43,105.53 112.47,107.70 114.50,109.80C116.53,111.90 118.43,113.78 120.60,115.80C122.77,117.82 125.07,119.82 127.50,121.90C129.93,123.98 133.12,126.38 135.20,128.30C137.28,130.22 138.23,131.57 140.00,133.40C141.77,135.23 144.13,137.98 145.80,139.30C147.47,140.62 148.53,140.75 150.00,141.30C151.47,141.85 152.93,142.05 154.60,142.60C156.27,143.15 157.57,143.77 160.00,144.60C162.43,145.43 166.23,146.50 169.20,147.60C172.17,148.70 174.88,150.00 177.80,151.20C180.72,152.40 183.93,153.45 186.70,154.80C189.47,156.15 191.35,157.47 194.40,159.30C197.45,161.13 201.32,163.48 205.00,165.80C208.68,168.12 212.33,170.23 216.50,173.20C220.67,176.17 225.92,180.53 230.00,183.60C234.08,186.67 237.97,189.48 241.00,191.60C244.03,193.72 243.95,193.63 248.20,196.30C252.45,198.97 260.70,203.83 266.50,207.60C272.30,211.37 278.75,215.97 283.00,218.90C287.25,221.83 289.55,223.52 292.00,225.20C294.45,226.88 295.65,227.57 297.70,229.00C299.75,230.43 302.40,232.22 304.30,233.80C306.20,235.38 307.67,237.08 309.10,238.50C310.53,239.92 311.67,241.02 312.90,242.30C314.13,243.58 315.90,245.55 316.50,246.20" fill="none" stroke="#2a2a2a" stroke-width="1.0" stroke-linejoin="round"/>
<g fill="#1010f0"><circle cx="79.9" cy="44.9" r="1.9"/><circle cx="76.4" cy="71.9" r="1.9"/><circle cx="77.3" cy="74.2" r="1.9"/><circle cx="82.8" cy="79.6" r="1.9"/><circle cx="83.2" cy="80.2" r="1.9"/><circle cx="84.6" cy="82.4" r="1.9"/><circle cx="86.1" cy="83.9" r="1.9"/><circle cx="85.4" cy="86.1" r="1.9"/><circle cx="87.5" cy="87.5" r="1.9"/><circle cx="87.5" cy="89.0" r="1.9"/><circle cx="91.2" cy="94.1" r="1.9"/><circle cx="94.1" cy="95.6" r="1.9"/><circle cx="98.5" cy="99.2" r="1.9"/><circle cx="97.8" cy="103.6" r="1.9"/><circle cx="101.4" cy="104.4" r="1.9"/><circle cx="103.6" cy="105.1" r="1.9"/><circle cx="100.7" cy="108.0" r="1.9"/><circle cx="105.8" cy="108.7" r="1.9"/><circle cx="93.6" cy="97.5" r="1.9"/><circle cx="96.7" cy="102.1" r="1.9"/><circle cx="99.2" cy="104.7" r="1.9"/><circle cx="103.3" cy="105.2" r="1.9"/><circle cx="102.3" cy="109.3" r="1.9"/><circle cx="105.3" cy="111.8" r="1.9"/><circle cx="107.4" cy="112.8" r="1.9"/><circle cx="108.4" cy="114.9" r="1.9"/><circle cx="109.9" cy="117.4" r="1.9"/><circle cx="111.0" cy="120.0" r="1.9"/><circle cx="110.7" cy="115.8" r="1.9"/><circle cx="120.2" cy="127.5" r="1.9"/><circle cx="123.2" cy="129.0" r="1.9"/><circle cx="122.4" cy="131.2" r="1.9"/><circle cx="121.5" cy="128.6" r="1.9"/><circle cx="123.6" cy="130.8" r="1.9"/><circle cx="128.8" cy="136.0" r="1.9"/><circle cx="134.6" cy="134.0" r="1.9"/><circle cx="133.1" cy="139.6" r="1.9"/><circle cx="136.8" cy="141.4" r="1.9"/><circle cx="138.2" cy="143.2" r="1.9"/><circle cx="139.7" cy="138.9" r="1.9"/><circle cx="142.6" cy="144.0" r="1.9"/><circle cx="149.2" cy="150.5" r="1.9"/><circle cx="149.9" cy="152.0" r="1.9"/><circle cx="152.1" cy="152.0" r="1.9"/><circle cx="155.8" cy="152.0" r="1.9"/><circle cx="157.2" cy="156.4" r="1.9"/><circle cx="160.1" cy="157.1" r="1.9"/><circle cx="160.1" cy="160.8" r="1.9"/><circle cx="163.8" cy="148.4" r="1.9"/><circle cx="176.2" cy="169.2" r="1.9"/><circle cx="178.0" cy="170.4" r="1.9"/><circle cx="183.0" cy="173.5" r="1.9"/><circle cx="184.9" cy="177.9" r="1.9"/><circle cx="188.6" cy="176.6" r="1.9"/><circle cx="190.5" cy="177.9" r="1.9"/><circle cx="194.4" cy="177.3" r="1.9"/><circle cx="202.9" cy="183.8" r="1.9"/><circle cx="211.0" cy="191.6" r="1.9"/><circle cx="202.2" cy="185.0" r="1.9"/></g>
<path d="M108.3,134.9H123.2M229.5,201.1H237.8" stroke="#6a6ae6" stroke-width="1.1"/>
<g fill="#1010f0"><circle cx="115.8" cy="134.9" r="1.9"/><circle cx="234.4" cy="201.1" r="1.9"/></g>
<path d="M51.199999999999996,44.0L57.6,50.400000000000006M51.199999999999996,50.400000000000006L57.6,44.0" stroke="#cc2020" stroke-width="1.4"/>
<path d="M63.3,53.099999999999994L69.7,59.5M63.3,59.5L69.7,53.099999999999994" stroke="#cc2020" stroke-width="1.4"/>
<path d="M66.3,59.4L72.7,65.8M66.3,65.8L72.7,59.4" stroke="#cc2020" stroke-width="1.4"/>
<path d="M95.0,96.89999999999999L101.4,103.3M95.0,103.3L101.4,96.89999999999999" stroke="#90ee60" stroke-width="1.4"/>
<path d="M110.0,118.89999999999999L116.4,125.3M110.0,125.3L116.4,118.89999999999999" stroke="#90ee60" stroke-width="1.4"/>
</g>
<text x="286.9" y="202.7" textLength="17.8" lengthAdjust="spacingAndGlyphs" style="font-size:7.2px;font-weight:bold;fill:#333">10 Myr</text>
<path d="M355.2,245.95V1.9H23.8V245.95" fill="none" stroke="#111" stroke-width="1.6"/>
<path d="M23.8,245.95H355.2" fill="none" stroke="#222" stroke-width="1.1"/>
<path d="M23.90,248.35V243.75M32.05,245.95V244.14999999999998M40.21,245.95V244.14999999999998M48.36,245.95V244.14999999999998M56.52,245.95V244.14999999999998M64.67,245.95V244.14999999999998M72.83,245.95V244.14999999999998M80.98,245.95V244.14999999999998M89.14,245.95V244.14999999999998M97.29,245.95V244.14999999999998M105.45,248.35V243.75M113.60,245.95V244.14999999999998M121.76,245.95V244.14999999999998M129.91,245.95V244.14999999999998M138.07,245.95V244.14999999999998M146.22,245.95V244.14999999999998M154.38,245.95V244.14999999999998M162.53,245.95V244.14999999999998M170.69,245.95V244.14999999999998M178.84,245.95V244.14999999999998M187.00,248.35V243.75M195.16,245.95V244.14999999999998M203.31,245.95V244.14999999999998M211.46,245.95V244.14999999999998M219.62,245.95V244.14999999999998M227.78,245.95V244.14999999999998M235.93,245.95V244.14999999999998M244.09,245.95V244.14999999999998M252.24,245.95V244.14999999999998M260.39,245.95V244.14999999999998M268.55,248.35V243.75M276.70,245.95V244.14999999999998M284.86,245.95V244.14999999999998M293.01,245.95V244.14999999999998M301.17,245.95V244.14999999999998M309.32,245.95V244.14999999999998M317.48,245.95V244.14999999999998M325.63,245.95V244.14999999999998M333.79,245.95V244.14999999999998M341.94,245.95V244.14999999999998M350.10,248.35V243.75M23.8,7.06H25.5M23.8,12.77H25.5M23.8,18.48H25.5M23.8,24.19H25.5M21.400000000000002,29.90H25.8M23.8,35.61H25.5M23.8,41.32H25.5M23.8,47.03H25.5M23.8,52.74H25.5M23.8,58.45H25.5M23.8,64.16H25.5M23.8,69.87H25.5M21.400000000000002,75.58H25.8M23.8,81.29H25.5M23.8,87.00H25.5M23.8,92.71H25.5M23.8,98.42H25.5M23.8,104.13H25.5M23.8,109.84H25.5M23.8,115.55H25.5M21.400000000000002,121.26H25.8M23.8,126.97H25.5M23.8,132.68H25.5M23.8,138.39H25.5M23.8,144.10H25.5M23.8,149.81H25.5M23.8,155.52H25.5M23.8,161.23H25.5M21.400000000000002,166.94H25.8M23.8,172.65H25.5M23.8,178.36H25.5M23.8,184.07H25.5M23.8,189.78H25.5M23.8,195.49H25.5M23.8,201.20H25.5M23.8,206.91H25.5M21.400000000000002,212.62H25.8M23.8,218.33H25.5M23.8,224.04H25.5M23.8,229.75H25.5M23.8,235.46H25.5M23.8,241.17H25.5" stroke="#111" stroke-width="1.2"/>
<text transform="translate(23.90,257.1) scale(1,1.08)" text-anchor="middle">0</text>
<text transform="translate(105.45,257.1) scale(1,1.08)" text-anchor="middle">1</text>
<text transform="translate(187.00,257.1) scale(1,1.08)" text-anchor="middle">2</text>
<text transform="translate(268.55,257.1) scale(1,1.08)" text-anchor="middle">3</text>
<text transform="translate(350.10,257.1) scale(1,1.08)" text-anchor="middle">4</text>
<text transform="translate(21.7,33.20) scale(1,1.08)" text-anchor="end">2</text>
<text transform="translate(21.7,78.88) scale(1,1.08)" text-anchor="end">4</text>
<text transform="translate(21.7,124.56) scale(1,1.08)" text-anchor="end">6</text>
<text transform="translate(21.7,170.24) scale(1,1.08)" text-anchor="end">8</text>
<text transform="translate(21.7,215.92) scale(1,1.08)" text-anchor="end">10</text>
<text transform="translate(190.1,270.2) scale(1,1.08)" text-anchor="middle">BP-RP (mag)</text>
<text transform="translate(8.6,124.4) rotate(-90) scale(1,1.08)" text-anchor="middle">Absolute G Mag (mag)</text>
<text transform="translate(228.2,14.40) scale(1,1.08)">Gaia EDR3 field</text>
<text transform="translate(228.2,27.60) scale(1,1.08)">Isochrones</text>
<text transform="translate(228.2,40.80) scale(1,1.08)">AB Dor (Lee &amp; Song 2019a)</text>
<text transform="translate(228.2,54.20) scale(1,1.08)">Proposed new member with disk</text>
<text transform="translate(228.2,67.60) scale(1,1.08)">Comovers</text>
<circle cx="218.7" cy="9.4" r="1.3" fill="#a0a0a0"/>
<path d="M211.5,22.6H225.8" stroke="#111" stroke-width="1.1"/>
<path d="M214.1,35.8H223.29999999999998M218.7,32.4V39.199999999999996" stroke="#1a1ae6" stroke-width="1.1"/><path d="M216.7,35.8L218.7,33.9L220.7,35.8L218.7,37.699999999999996Z" fill="#1a1ae6"/>
<path d="M214.50,49.10H222.90M218.70,45.30V52.90M215.68,46.36L221.72,51.84M215.68,51.84L221.72,46.36" stroke="#cc2020" stroke-width="1.5"/>
<path d="M214.30,62.40H223.10M218.70,58.40V66.40M215.53,59.52L221.87,65.28M215.53,65.28L221.87,59.52" stroke="#99ee55" stroke-width="1.5"/>
</svg>
</body></html>
